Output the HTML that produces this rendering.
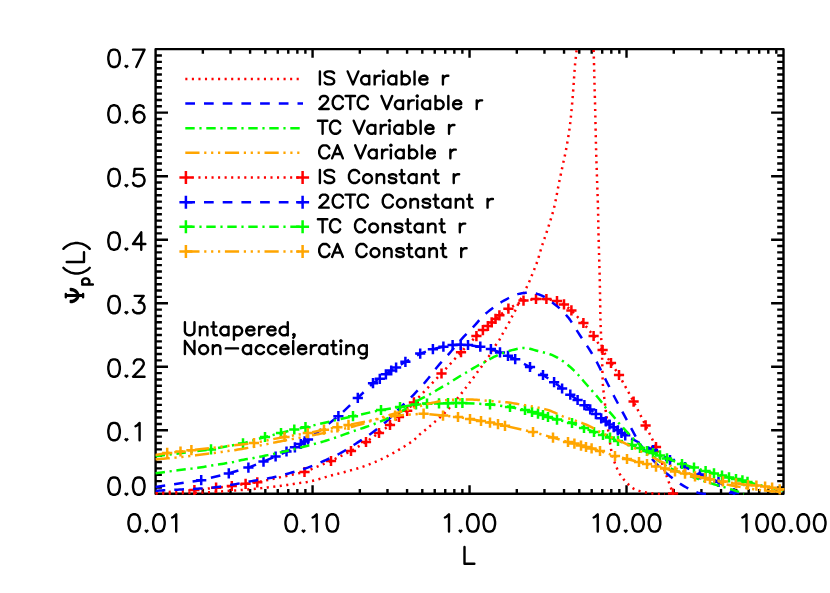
<!DOCTYPE html>
<html lang="en"><head><meta charset="utf-8"><title>Ψp(L) versus L — untapered, non-accelerating</title>
<style>html,body{margin:0;padding:0;background:#fff;font-family:"Liberation Sans",sans-serif}svg{display:block}.ax{stroke:#000;stroke-width:2.4;fill:none;stroke-linecap:butt}.tx{stroke:#000;stroke-width:2.4;fill:none;stroke-linecap:round;stroke-linejoin:round}.dt{stroke:#000;stroke-width:2.2;fill:#000;stroke-linecap:butt;stroke-linejoin:miter}.cv{fill:none;stroke-width:2.5;stroke-linecap:butt;stroke-linejoin:round}.mk{fill:none;stroke-width:2.5;stroke-linecap:butt}</style></head><body>
<svg width="830" height="593" viewBox="0 0 830 593" role="img" aria-label="Line chart of Psi_p(L) versus L">
<rect width="830" height="593" fill="#fff"/>
<defs><clipPath id="c"><rect x="154.5" y="48.05" width="630.1" height="446.85"/></clipPath></defs>
<g aria-label="axes"><path class="ax" stroke-linejoin="round" d="M155.6 49.15H783.5V493.8H155.6Z M202.85 493.8v-4.7 M202.85 49.15v4.7 M230.5 493.8v-4.7 M230.5 49.15v4.7 M250.11 493.8v-4.7 M250.11 49.15v4.7 M265.32 493.8v-4.7 M265.32 49.15v4.7 M277.75 493.8v-4.7 M277.75 49.15v4.7 M288.26 493.8v-4.7 M288.26 49.15v4.7 M297.36 493.8v-4.7 M297.36 49.15v4.7 M305.39 493.8v-4.7 M305.39 49.15v4.7 M312.57 493.8v-8.6 M312.57 49.15v8.6 M359.83 493.8v-4.7 M359.83 49.15v4.7 M387.47 493.8v-4.7 M387.47 49.15v4.7 M407.08 493.8v-4.7 M407.08 49.15v4.7 M422.3 493.8v-4.7 M422.3 49.15v4.7 M434.73 493.8v-4.7 M434.73 49.15v4.7 M445.23 493.8v-4.7 M445.23 49.15v4.7 M454.34 493.8v-4.7 M454.34 49.15v4.7 M462.37 493.8v-4.7 M462.37 49.15v4.7 M469.55 493.8v-8.6 M469.55 49.15v8.6 M516.8 493.8v-4.7 M516.8 49.15v4.7 M544.45 493.8v-4.7 M544.45 49.15v4.7 M564.06 493.8v-4.7 M564.06 49.15v4.7 M579.27 493.8v-4.7 M579.27 49.15v4.7 M591.7 493.8v-4.7 M591.7 49.15v4.7 M602.21 493.8v-4.7 M602.21 49.15v4.7 M611.31 493.8v-4.7 M611.31 49.15v4.7 M619.34 493.8v-4.7 M619.34 49.15v4.7 M626.52 493.8v-8.6 M626.52 49.15v8.6 M673.78 493.8v-4.7 M673.78 49.15v4.7 M701.42 493.8v-4.7 M701.42 49.15v4.7 M721.03 493.8v-4.7 M721.03 49.15v4.7 M736.25 493.8v-4.7 M736.25 49.15v4.7 M748.68 493.8v-4.7 M748.68 49.15v4.7 M759.18 493.8v-4.7 M759.18 49.15v4.7 M768.29 493.8v-4.7 M768.29 49.15v4.7 M776.32 493.8v-4.7 M776.32 49.15v4.7 M155.6 487.45h6.3 M783.5 487.45h-6.3 M155.6 481.1h6.3 M783.5 481.1h-6.3 M155.6 474.74h6.3 M783.5 474.74h-6.3 M155.6 468.39h6.3 M783.5 468.39h-6.3 M155.6 462.04h6.3 M783.5 462.04h-6.3 M155.6 455.69h6.3 M783.5 455.69h-6.3 M155.6 449.33h6.3 M783.5 449.33h-6.3 M155.6 442.98h6.3 M783.5 442.98h-6.3 M155.6 436.63h6.3 M783.5 436.63h-6.3 M155.6 430.28h12.4 M783.5 430.28h-12.4 M155.6 423.93h6.3 M783.5 423.93h-6.3 M155.6 417.57h6.3 M783.5 417.57h-6.3 M155.6 411.22h6.3 M783.5 411.22h-6.3 M155.6 404.87h6.3 M783.5 404.87h-6.3 M155.6 398.52h6.3 M783.5 398.52h-6.3 M155.6 392.17h6.3 M783.5 392.17h-6.3 M155.6 385.81h6.3 M783.5 385.81h-6.3 M155.6 379.46h6.3 M783.5 379.46h-6.3 M155.6 373.11h6.3 M783.5 373.11h-6.3 M155.6 366.76h12.4 M783.5 366.76h-12.4 M155.6 360.4h6.3 M783.5 360.4h-6.3 M155.6 354.05h6.3 M783.5 354.05h-6.3 M155.6 347.7h6.3 M783.5 347.7h-6.3 M155.6 341.35h6.3 M783.5 341.35h-6.3 M155.6 335h6.3 M783.5 335h-6.3 M155.6 328.64h6.3 M783.5 328.64h-6.3 M155.6 322.29h6.3 M783.5 322.29h-6.3 M155.6 315.94h6.3 M783.5 315.94h-6.3 M155.6 309.59h6.3 M783.5 309.59h-6.3 M155.6 303.24h12.4 M783.5 303.24h-12.4 M155.6 296.88h6.3 M783.5 296.88h-6.3 M155.6 290.53h6.3 M783.5 290.53h-6.3 M155.6 284.18h6.3 M783.5 284.18h-6.3 M155.6 277.83h6.3 M783.5 277.83h-6.3 M155.6 271.48h6.3 M783.5 271.48h-6.3 M155.6 265.12h6.3 M783.5 265.12h-6.3 M155.6 258.77h6.3 M783.5 258.77h-6.3 M155.6 252.42h6.3 M783.5 252.42h-6.3 M155.6 246.07h6.3 M783.5 246.07h-6.3 M155.6 239.71h12.4 M783.5 239.71h-12.4 M155.6 233.36h6.3 M783.5 233.36h-6.3 M155.6 227.01h6.3 M783.5 227.01h-6.3 M155.6 220.66h6.3 M783.5 220.66h-6.3 M155.6 214.31h6.3 M783.5 214.31h-6.3 M155.6 207.95h6.3 M783.5 207.95h-6.3 M155.6 201.6h6.3 M783.5 201.6h-6.3 M155.6 195.25h6.3 M783.5 195.25h-6.3 M155.6 188.9h6.3 M783.5 188.9h-6.3 M155.6 182.55h6.3 M783.5 182.55h-6.3 M155.6 176.19h12.4 M783.5 176.19h-12.4 M155.6 169.84h6.3 M783.5 169.84h-6.3 M155.6 163.49h6.3 M783.5 163.49h-6.3 M155.6 157.14h6.3 M783.5 157.14h-6.3 M155.6 150.78h6.3 M783.5 150.78h-6.3 M155.6 144.43h6.3 M783.5 144.43h-6.3 M155.6 138.08h6.3 M783.5 138.08h-6.3 M155.6 131.73h6.3 M783.5 131.73h-6.3 M155.6 125.38h6.3 M783.5 125.38h-6.3 M155.6 119.02h6.3 M783.5 119.02h-6.3 M155.6 112.67h12.4 M783.5 112.67h-12.4 M155.6 106.32h6.3 M783.5 106.32h-6.3 M155.6 99.97h6.3 M783.5 99.97h-6.3 M155.6 93.61h6.3 M783.5 93.61h-6.3 M155.6 87.26h6.3 M783.5 87.26h-6.3 M155.6 80.91h6.3 M783.5 80.91h-6.3 M155.6 74.56h6.3 M783.5 74.56h-6.3 M155.6 68.21h6.3 M783.5 68.21h-6.3 M155.6 61.85h6.3 M783.5 61.85h-6.3 M155.6 55.5h6.3 M783.5 55.5h-6.3"/></g>
<g aria-label="0.01"><title>0.01</title><path class="tx" d="M133.4 514.23 L130.93 515.06 L129.29 517.54 L128.46 521.68 L128.46 524.16 L129.29 528.29 L130.93 530.77 L133.4 531.6 L135.05 531.6 L137.52 530.77 L139.16 528.29 L139.99 524.16 L139.99 521.68 L139.16 517.54 L137.52 515.06 L135.05 514.23 L133.4 514.23 M158.09 514.23 L155.62 515.06 L153.98 517.54 L153.15 521.68 L153.15 524.16 L153.98 528.29 L155.62 530.77 L158.09 531.6 L159.74 531.6 L162.21 530.77 L163.85 528.29 L164.68 524.16 L164.68 521.68 L163.85 517.54 L162.21 515.06 L159.74 514.23 L158.09 514.23 M172.08 517.54 L173.73 516.71 L176.2 514.23 L176.2 531.6"/><path class="dt" d="M146.57 529.95 L145.75 530.77 L146.57 531.6 L147.39 530.77 L146.57 529.95"/></g>
<g aria-label="0.10"><title>0.10</title><path class="tx" d="M290.38 514.23 L287.91 515.06 L286.26 517.54 L285.44 521.68 L285.44 524.16 L286.26 528.29 L287.91 530.77 L290.38 531.6 L292.02 531.6 L294.49 530.77 L296.14 528.29 L296.96 524.16 L296.96 521.68 L296.14 517.54 L294.49 515.06 L292.02 514.23 L290.38 514.23 M312.6 517.54 L314.24 516.71 L316.71 514.23 L316.71 531.6 M331.53 514.23 L329.06 515.06 L327.41 517.54 L326.59 521.68 L326.59 524.16 L327.41 528.29 L329.06 530.77 L331.53 531.6 L333.17 531.6 L335.64 530.77 L337.29 528.29 L338.11 524.16 L338.11 521.68 L337.29 517.54 L335.64 515.06 L333.17 514.23 L331.53 514.23"/><path class="dt" d="M303.54 529.95 L302.72 530.77 L303.54 531.6 L304.37 530.77 L303.54 529.95"/></g>
<g aria-label="1.00"><title>1.00</title><path class="tx" d="M444.88 517.54 L446.53 516.71 L449 514.23 L449 531.6 M472.04 514.23 L469.57 515.06 L467.93 517.54 L467.1 521.68 L467.1 524.16 L467.93 528.29 L469.57 530.77 L472.04 531.6 L473.69 531.6 L476.16 530.77 L477.8 528.29 L478.63 524.16 L478.63 521.68 L477.8 517.54 L476.16 515.06 L473.69 514.23 L472.04 514.23 M488.5 514.23 L486.03 515.06 L484.39 517.54 L483.56 521.68 L483.56 524.16 L484.39 528.29 L486.03 530.77 L488.5 531.6 L490.15 531.6 L492.62 530.77 L494.26 528.29 L495.09 524.16 L495.09 521.68 L494.26 517.54 L492.62 515.06 L490.15 514.23 L488.5 514.23"/><path class="dt" d="M460.52 529.95 L459.7 530.77 L460.52 531.6 L461.34 530.77 L460.52 529.95"/></g>
<g aria-label="10.00"><title>10.00</title><path class="tx" d="M593.63 517.54 L595.27 516.71 L597.74 514.23 L597.74 531.6 M612.56 514.23 L610.09 515.06 L608.44 517.54 L607.62 521.68 L607.62 524.16 L608.44 528.29 L610.09 530.77 L612.56 531.6 L614.2 531.6 L616.67 530.77 L618.32 528.29 L619.14 524.16 L619.14 521.68 L618.32 517.54 L616.67 515.06 L614.2 514.23 L612.56 514.23 M637.25 514.23 L634.78 515.06 L633.13 517.54 L632.31 521.68 L632.31 524.16 L633.13 528.29 L634.78 530.77 L637.25 531.6 L638.89 531.6 L641.36 530.77 L643.01 528.29 L643.83 524.16 L643.83 521.68 L643.01 517.54 L641.36 515.06 L638.89 514.23 L637.25 514.23 M653.71 514.23 L651.24 515.06 L649.59 517.54 L648.77 521.68 L648.77 524.16 L649.59 528.29 L651.24 530.77 L653.71 531.6 L655.35 531.6 L657.82 530.77 L659.47 528.29 L660.29 524.16 L660.29 521.68 L659.47 517.54 L657.82 515.06 L655.35 514.23 L653.71 514.23"/><path class="dt" d="M625.73 529.95 L624.9 530.77 L625.73 531.6 L626.55 530.77 L625.73 529.95"/></g>
<g aria-label="100.00"><title>100.00</title><path class="tx" d="M742.37 517.54 L744.02 516.71 L746.49 514.23 L746.49 531.6 M761.3 514.23 L758.83 515.06 L757.19 517.54 L756.36 521.68 L756.36 524.16 L757.19 528.29 L758.83 530.77 L761.3 531.6 L762.95 531.6 L765.42 530.77 L767.06 528.29 L767.89 524.16 L767.89 521.68 L767.06 517.54 L765.42 515.06 L762.95 514.23 L761.3 514.23 M777.76 514.23 L775.29 515.06 L773.65 517.54 L772.82 521.68 L772.82 524.16 L773.65 528.29 L775.29 530.77 L777.76 531.6 L779.41 531.6 L781.88 530.77 L783.52 528.29 L784.35 524.16 L784.35 521.68 L783.52 517.54 L781.88 515.06 L779.41 514.23 L777.76 514.23 M802.45 514.23 L799.98 515.06 L798.34 517.54 L797.51 521.68 L797.51 524.16 L798.34 528.29 L799.98 530.77 L802.45 531.6 L804.1 531.6 L806.57 530.77 L808.21 528.29 L809.04 524.16 L809.04 521.68 L808.21 517.54 L806.57 515.06 L804.1 514.23 L802.45 514.23 M818.91 514.23 L816.44 515.06 L814.8 517.54 L813.97 521.68 L813.97 524.16 L814.8 528.29 L816.44 530.77 L818.91 531.6 L820.56 531.6 L823.03 530.77 L824.67 528.29 L825.5 524.16 L825.5 521.68 L824.67 517.54 L823.03 515.06 L820.56 514.23 L818.91 514.23"/><path class="dt" d="M790.93 529.95 L790.11 530.77 L790.93 531.6 L791.75 530.77 L790.93 529.95"/></g>
<g aria-label="0.0"><title>0.0</title><path class="tx" d="M113.26 477.43 L110.79 478.26 L109.14 480.74 L108.32 484.88 L108.32 487.36 L109.14 491.49 L110.79 493.97 L113.26 494.8 L114.9 494.8 L117.37 493.97 L119.02 491.49 L119.84 487.36 L119.84 484.88 L119.02 480.74 L117.37 478.26 L114.9 477.43 L113.26 477.43 M137.95 477.43 L135.48 478.26 L133.83 480.74 L133.01 484.88 L133.01 487.36 L133.83 491.49 L135.48 493.97 L137.95 494.8 L139.59 494.8 L142.06 493.97 L143.71 491.49 L144.53 487.36 L144.53 484.88 L143.71 480.74 L142.06 478.26 L139.59 477.43 L137.95 477.43"/><path class="dt" d="M126.42 493.15 L125.6 493.97 L126.42 494.8 L127.25 493.97 L126.42 493.15"/></g>
<g aria-label="0.1"><title>0.1</title><path class="tx" d="M113.26 422.91 L110.79 423.74 L109.14 426.22 L108.32 430.35 L108.32 432.84 L109.14 436.97 L110.79 439.45 L113.26 440.28 L114.9 440.28 L117.37 439.45 L119.02 436.97 L119.84 432.84 L119.84 430.35 L119.02 426.22 L117.37 423.74 L114.9 422.91 L113.26 422.91 M135.48 426.22 L137.12 425.39 L139.59 422.91 L139.59 440.28"/><path class="dt" d="M126.42 438.62 L125.6 439.45 L126.42 440.28 L127.25 439.45 L126.42 438.62"/></g>
<g aria-label="0.2"><title>0.2</title><path class="tx" d="M113.26 359.39 L110.79 360.22 L109.14 362.7 L108.32 366.83 L108.32 369.31 L109.14 373.45 L110.79 375.93 L113.26 376.76 L114.9 376.76 L117.37 375.93 L119.02 373.45 L119.84 369.31 L119.84 366.83 L119.02 362.7 L117.37 360.22 L114.9 359.39 L113.26 359.39 M133.83 363.53 L133.83 362.7 L134.66 361.04 L135.48 360.22 L137.12 359.39 L140.42 359.39 L142.06 360.22 L142.88 361.04 L143.71 362.7 L143.71 364.35 L142.88 366.01 L141.24 368.49 L133.01 376.76 L144.53 376.76"/><path class="dt" d="M126.42 375.1 L125.6 375.93 L126.42 376.76 L127.25 375.93 L126.42 375.1"/></g>
<g aria-label="0.3"><title>0.3</title><path class="tx" d="M113.26 295.87 L110.79 296.7 L109.14 299.18 L108.32 303.31 L108.32 305.79 L109.14 309.93 L110.79 312.41 L113.26 313.24 L114.9 313.24 L117.37 312.41 L119.02 309.93 L119.84 305.79 L119.84 303.31 L119.02 299.18 L117.37 296.7 L114.9 295.87 L113.26 295.87 M134.66 295.87 L143.71 295.87 L138.77 302.48 L141.24 302.48 L142.88 303.31 L143.71 304.14 L144.53 306.62 L144.53 308.27 L143.71 310.75 L142.06 312.41 L139.59 313.24 L137.12 313.24 L134.66 312.41 L133.83 311.58 L133.01 309.93"/><path class="dt" d="M126.42 311.58 L125.6 312.41 L126.42 313.24 L127.25 312.41 L126.42 311.58"/></g>
<g aria-label="0.4"><title>0.4</title><path class="tx" d="M113.26 232.35 L110.79 233.17 L109.14 235.66 L108.32 239.79 L108.32 242.27 L109.14 246.41 L110.79 248.89 L113.26 249.71 L114.9 249.71 L117.37 248.89 L119.02 246.41 L119.84 242.27 L119.84 239.79 L119.02 235.66 L117.37 233.17 L114.9 232.35 L113.26 232.35 M141.24 232.35 L133.01 243.93 L145.35 243.93 M141.24 232.35 L141.24 249.71"/><path class="dt" d="M126.42 248.06 L125.6 248.89 L126.42 249.71 L127.25 248.89 L126.42 248.06"/></g>
<g aria-label="0.5"><title>0.5</title><path class="tx" d="M113.26 168.83 L110.79 169.65 L109.14 172.13 L108.32 176.27 L108.32 178.75 L109.14 182.88 L110.79 185.37 L113.26 186.19 L114.9 186.19 L117.37 185.37 L119.02 182.88 L119.84 178.75 L119.84 176.27 L119.02 172.13 L117.37 169.65 L114.9 168.83 L113.26 168.83 M142.88 168.83 L134.66 168.83 L133.83 176.27 L134.66 175.44 L137.12 174.61 L139.59 174.61 L142.06 175.44 L143.71 177.1 L144.53 179.58 L144.53 181.23 L143.71 183.71 L142.06 185.37 L139.59 186.19 L137.12 186.19 L134.66 185.37 L133.83 184.54 L133.01 182.88"/><path class="dt" d="M126.42 184.54 L125.6 185.37 L126.42 186.19 L127.25 185.37 L126.42 184.54"/></g>
<g aria-label="0.6"><title>0.6</title><path class="tx" d="M113.26 105.3 L110.79 106.13 L109.14 108.61 L108.32 112.75 L108.32 115.23 L109.14 119.36 L110.79 121.84 L113.26 122.67 L114.9 122.67 L117.37 121.84 L119.02 119.36 L119.84 115.23 L119.84 112.75 L119.02 108.61 L117.37 106.13 L114.9 105.3 L113.26 105.3 M143.71 107.79 L142.88 106.13 L140.42 105.3 L138.77 105.3 L136.3 106.13 L134.66 108.61 L133.83 112.75 L133.83 116.88 L134.66 120.19 L136.3 121.84 L138.77 122.67 L139.59 122.67 L142.06 121.84 L143.71 120.19 L144.53 117.71 L144.53 116.88 L143.71 114.4 L142.06 112.75 L139.59 111.92 L138.77 111.92 L136.3 112.75 L134.66 114.4 L133.83 116.88"/><path class="dt" d="M126.42 121.02 L125.6 121.84 L126.42 122.67 L127.25 121.84 L126.42 121.02"/></g>
<g aria-label="0.7"><title>0.7</title><path class="tx" d="M113.26 49.63 L110.79 50.46 L109.14 52.94 L108.32 57.08 L108.32 59.56 L109.14 63.69 L110.79 66.17 L113.26 67 L114.9 67 L117.37 66.17 L119.02 63.69 L119.84 59.56 L119.84 57.08 L119.02 52.94 L117.37 50.46 L114.9 49.63 L113.26 49.63 M144.53 49.63 L136.3 67 M133.01 49.63 L144.53 49.63"/><path class="dt" d="M126.42 65.35 L125.6 66.17 L126.42 67 L127.25 66.17 L126.42 65.35"/></g>
<g aria-label="L"><title>L</title><path class="tx" d="M464.5 546.9 L464.5 563.7 M464.5 563.7 L474.37 563.7"/></g>
<g aria-label="Ψp(L)"><title>Ψp(L)</title><path class="tx" d="M65.82 295.88 L83.1 295.88 M65.82 295.22 L83.1 295.22 M65.82 297.19 L65.82 293.9 M83.1 297.19 L83.1 293.9 M70.75 302.13 L72.4 301.97 L74.21 301.31 L75.86 300.24 L77.34 298.67 L78.16 297.03 L78.49 295.55 M70.75 301.06 L72.4 300.9 L73.88 300.4 L75.36 299.5 L76.52 298.35 M70.75 288.96 L72.4 289.13 L74.21 289.79 L75.86 290.86 L77.34 292.42 L78.16 294.07 L78.49 295.55 M70.75 290.03 L72.4 290.2 L73.88 290.69 L75.36 291.6 L76.52 292.75 M82.16 284.45 L92.87 284.45 M83.69 284.45 L82.67 283.43 L82.16 282.41 L82.16 280.88 L82.67 279.86 L83.69 278.84 L85.22 278.33 L86.24 278.33 L87.77 278.84 L88.79 279.86 L89.3 280.88 L89.3 282.41 L88.79 283.43 L87.77 284.45 M63.42 267.75 L65.07 269.39 L67.54 271.04 L70.83 272.68 L74.95 273.51 L78.24 273.51 L82.35 272.68 L85.65 271.04 L88.11 269.39 L89.76 267.75 M66.72 261.99 L84 261.99 M84 261.99 L84 252.11 M63.42 248.82 L65.07 247.17 L67.54 245.53 L70.83 243.88 L74.95 243.06 L78.24 243.06 L82.35 243.88 L85.65 245.53 L88.11 247.17 L89.76 248.82"/></g>
<g aria-label="Untapered,"><title>Untapered,</title><path class="tx" d="M184.92 322.28 L184.92 331.58 L185.6 333.44 L186.97 334.68 L189.01 335.3 L190.37 335.3 L192.41 334.68 L193.78 333.44 L194.46 331.58 L194.46 322.28 M199.91 326.62 L199.91 335.3 M199.91 329.1 L201.95 327.24 L203.31 326.62 L205.35 326.62 L206.72 327.24 L207.4 329.1 L207.4 335.3 M213.53 322.28 L213.53 332.82 L214.21 334.68 L215.57 335.3 L216.93 335.3 M211.48 326.62 L216.25 326.62 M228.51 326.62 L228.51 335.3 M228.51 328.48 L227.15 327.24 L225.78 326.62 L223.74 326.62 L222.38 327.24 L221.02 328.48 L220.34 330.34 L220.34 331.58 L221.02 333.44 L222.38 334.68 L223.74 335.3 L225.78 335.3 L227.15 334.68 L228.51 333.44 M233.96 326.62 L233.96 339.64 M233.96 328.48 L235.32 327.24 L236.68 326.62 L238.72 326.62 L240.08 327.24 L241.45 328.48 L242.13 330.34 L242.13 331.58 L241.45 333.44 L240.08 334.68 L238.72 335.3 L236.68 335.3 L235.32 334.68 L233.96 333.44 M246.21 330.34 L254.39 330.34 L254.39 329.1 L253.7 327.86 L253.02 327.24 L251.66 326.62 L249.62 326.62 L248.26 327.24 L246.89 328.48 L246.21 330.34 L246.21 331.58 L246.89 333.44 L248.26 334.68 L249.62 335.3 L251.66 335.3 L253.02 334.68 L254.39 333.44 M259.15 326.62 L259.15 335.3 M259.15 330.34 L259.83 328.48 L261.2 327.24 L262.56 326.62 L264.6 326.62 M267.32 330.34 L275.5 330.34 L275.5 329.1 L274.82 327.86 L274.13 327.24 L272.77 326.62 L270.73 326.62 L269.37 327.24 L268.01 328.48 L267.32 330.34 L267.32 331.58 L268.01 333.44 L269.37 334.68 L270.73 335.3 L272.77 335.3 L274.13 334.68 L275.5 333.44 M287.75 322.28 L287.75 335.3 M287.75 328.48 L286.39 327.24 L285.03 326.62 L282.99 326.62 L281.63 327.24 L280.26 328.48 L279.58 330.34 L279.58 331.58 L280.26 333.44 L281.63 334.68 L282.99 335.3 L285.03 335.3 L286.39 334.68 L287.75 333.44 M294.56 334.68 L293.88 335.3 L293.2 334.68 L293.88 334.06 L294.56 334.68 L294.56 335.92 L293.88 337.16 L293.2 337.78"/></g>
<g aria-label="Non-accelerating"><title>Non-accelerating</title><path class="tx" d="M184.92 340.98 L184.92 354 M184.92 340.98 L194.46 354 M194.46 340.98 L194.46 354 M202.63 345.32 L201.27 345.94 L199.91 347.18 L199.22 349.04 L199.22 350.28 L199.91 352.14 L201.27 353.38 L202.63 354 L204.67 354 L206.03 353.38 L207.4 352.14 L208.08 350.28 L208.08 349.04 L207.4 347.18 L206.03 345.94 L204.67 345.32 L202.63 345.32 M212.84 345.32 L212.84 354 M212.84 347.8 L214.89 345.94 L216.25 345.32 L218.29 345.32 L219.65 345.94 L220.34 347.8 L220.34 354 M225.78 348.42 L238.04 348.42 M250.98 345.32 L250.98 354 M250.98 347.18 L249.62 345.94 L248.26 345.32 L246.21 345.32 L244.85 345.94 L243.49 347.18 L242.81 349.04 L242.81 350.28 L243.49 352.14 L244.85 353.38 L246.21 354 L248.26 354 L249.62 353.38 L250.98 352.14 M263.92 347.18 L262.56 345.94 L261.2 345.32 L259.15 345.32 L257.79 345.94 L256.43 347.18 L255.75 349.04 L255.75 350.28 L256.43 352.14 L257.79 353.38 L259.15 354 L261.2 354 L262.56 353.38 L263.92 352.14 M276.18 347.18 L274.82 345.94 L273.45 345.32 L271.41 345.32 L270.05 345.94 L268.69 347.18 L268.01 349.04 L268.01 350.28 L268.69 352.14 L270.05 353.38 L271.41 354 L273.45 354 L274.82 353.38 L276.18 352.14 M280.26 349.04 L288.44 349.04 L288.44 347.8 L287.75 346.56 L287.07 345.94 L285.71 345.32 L283.67 345.32 L282.31 345.94 L280.94 347.18 L280.26 349.04 L280.26 350.28 L280.94 352.14 L282.31 353.38 L283.67 354 L285.71 354 L287.07 353.38 L288.44 352.14 M293.2 340.98 L293.2 354 M297.97 349.04 L306.14 349.04 L306.14 347.8 L305.46 346.56 L304.78 345.94 L303.42 345.32 L301.38 345.32 L300.01 345.94 L298.65 347.18 L297.97 349.04 L297.97 350.28 L298.65 352.14 L300.01 353.38 L301.38 354 L303.42 354 L304.78 353.38 L306.14 352.14 M310.91 345.32 L310.91 354 M310.91 349.04 L311.59 347.18 L312.95 345.94 L314.31 345.32 L316.36 345.32 M327.25 345.32 L327.25 354 M327.25 347.18 L325.89 345.94 L324.53 345.32 L322.49 345.32 L321.12 345.94 L319.76 347.18 L319.08 349.04 L319.08 350.28 L319.76 352.14 L321.12 353.38 L322.49 354 L324.53 354 L325.89 353.38 L327.25 352.14 M333.38 340.98 L333.38 351.52 L334.06 353.38 L335.42 354 L336.79 354 M331.34 345.32 L336.11 345.32 M340.19 340.98 L340.87 341.6 L341.55 340.98 L340.87 340.36 L340.19 340.98 M340.87 345.32 L340.87 354 M346.32 345.32 L346.32 354 M346.32 347.8 L348.36 345.94 L349.73 345.32 L351.77 345.32 L353.13 345.94 L353.81 347.8 L353.81 354 M366.75 345.32 L366.75 355.24 L366.07 357.1 L365.39 357.72 L364.03 358.34 L361.98 358.34 L360.62 357.72 M366.75 347.18 L365.39 345.94 L364.03 345.32 L361.98 345.32 L360.62 345.94 L359.26 347.18 L358.58 349.04 L358.58 350.28 L359.26 352.14 L360.62 353.38 L361.98 354 L364.03 354 L365.39 353.38 L366.75 352.14"/></g>
<g aria-label="legend IS Variable r">
<path class="cv" stroke="#ff0000" stroke-dasharray="2.1 4.45" d="M185.3 78.9H303"/>
<title>IS Variable r</title><path class="tx" d="M319.9 71.38 L319.9 84.4 M334.1 73.24 L332.75 72 L330.72 71.38 L328.02 71.38 L325.99 72 L324.64 73.24 L324.64 74.48 L325.31 75.72 L325.99 76.34 L327.34 76.96 L331.4 78.2 L332.75 78.82 L333.42 79.44 L334.1 80.68 L334.1 82.54 L332.75 83.78 L330.72 84.4 L328.02 84.4 L325.99 83.78 L324.64 82.54 M347.62 71.38 L353.03 84.4 M358.44 71.38 L353.03 84.4 M369.25 75.72 L369.25 84.4 M369.25 77.58 L367.9 76.34 L366.55 75.72 L364.52 75.72 L363.17 76.34 L361.82 77.58 L361.14 79.44 L361.14 80.68 L361.82 82.54 L363.17 83.78 L364.52 84.4 L366.55 84.4 L367.9 83.78 L369.25 82.54 M374.66 75.72 L374.66 84.4 M374.66 79.44 L375.34 77.58 L376.69 76.34 L378.04 75.72 L380.07 75.72 M382.77 71.38 L383.45 72 L384.12 71.38 L383.45 70.76 L382.77 71.38 M383.45 75.72 L383.45 84.4 M396.29 75.72 L396.29 84.4 M396.29 77.58 L394.94 76.34 L393.59 75.72 L391.56 75.72 L390.21 76.34 L388.86 77.58 L388.18 79.44 L388.18 80.68 L388.86 82.54 L390.21 83.78 L391.56 84.4 L393.59 84.4 L394.94 83.78 L396.29 82.54 M401.7 71.38 L401.7 84.4 M401.7 77.58 L403.05 76.34 L404.4 75.72 L406.43 75.72 L407.78 76.34 L409.14 77.58 L409.81 79.44 L409.81 80.68 L409.14 82.54 L407.78 83.78 L406.43 84.4 L404.4 84.4 L403.05 83.78 L401.7 82.54 M414.54 71.38 L414.54 84.4 M419.28 79.44 L427.39 79.44 L427.39 78.2 L426.71 76.96 L426.04 76.34 L424.68 75.72 L422.66 75.72 L421.3 76.34 L419.95 77.58 L419.28 79.44 L419.28 80.68 L419.95 82.54 L421.3 83.78 L422.66 84.4 L424.68 84.4 L426.04 83.78 L427.39 82.54 M442.94 75.72 L442.94 84.4 M442.94 79.44 L443.61 77.58 L444.96 76.34 L446.32 75.72 L448.34 75.72"/></g>
<g aria-label="legend 2CTC Variable r">
<path class="cv" stroke="#0000ff" stroke-dasharray="9.7 9.0" d="M185.3 103.55H303"/>
<title>2CTC Variable r</title><path class="tx" d="M319.9 99.13 L319.9 98.51 L320.58 97.27 L321.26 96.65 L322.61 96.03 L325.31 96.03 L326.66 96.65 L327.34 97.27 L328.02 98.51 L328.02 99.75 L327.34 100.99 L325.99 102.85 L319.23 109.05 L328.69 109.05 M342.89 99.13 L342.21 97.89 L340.86 96.65 L339.51 96.03 L336.8 96.03 L335.45 96.65 L334.1 97.89 L333.42 99.13 L332.75 100.99 L332.75 104.09 L333.42 105.95 L334.1 107.19 L335.45 108.43 L336.8 109.05 L339.51 109.05 L340.86 108.43 L342.21 107.19 L342.89 105.95 M350.32 96.03 L350.32 109.05 M345.59 96.03 L355.06 96.03 M367.9 99.13 L367.22 97.89 L365.87 96.65 L364.52 96.03 L361.82 96.03 L360.46 96.65 L359.11 97.89 L358.44 99.13 L357.76 100.99 L357.76 104.09 L358.44 105.95 L359.11 107.19 L360.46 108.43 L361.82 109.05 L364.52 109.05 L365.87 108.43 L367.22 107.19 L367.9 105.95 M381.42 96.03 L386.83 109.05 M392.24 96.03 L386.83 109.05 M403.05 100.37 L403.05 109.05 M403.05 102.23 L401.7 100.99 L400.35 100.37 L398.32 100.37 L396.97 100.99 L395.62 102.23 L394.94 104.09 L394.94 105.33 L395.62 107.19 L396.97 108.43 L398.32 109.05 L400.35 109.05 L401.7 108.43 L403.05 107.19 M408.46 100.37 L408.46 109.05 M408.46 104.09 L409.14 102.23 L410.49 100.99 L411.84 100.37 L413.87 100.37 M416.57 96.03 L417.25 96.65 L417.92 96.03 L417.25 95.41 L416.57 96.03 M417.25 100.37 L417.25 109.05 M430.09 100.37 L430.09 109.05 M430.09 102.23 L428.74 100.99 L427.39 100.37 L425.36 100.37 L424.01 100.99 L422.66 102.23 L421.98 104.09 L421.98 105.33 L422.66 107.19 L424.01 108.43 L425.36 109.05 L427.39 109.05 L428.74 108.43 L430.09 107.19 M435.5 96.03 L435.5 109.05 M435.5 102.23 L436.85 100.99 L438.2 100.37 L440.23 100.37 L441.58 100.99 L442.94 102.23 L443.61 104.09 L443.61 105.33 L442.94 107.19 L441.58 108.43 L440.23 109.05 L438.2 109.05 L436.85 108.43 L435.5 107.19 M448.34 96.03 L448.34 109.05 M453.08 104.09 L461.19 104.09 L461.19 102.85 L460.51 101.61 L459.84 100.99 L458.48 100.37 L456.46 100.37 L455.1 100.99 L453.75 102.23 L453.08 104.09 L453.08 105.33 L453.75 107.19 L455.1 108.43 L456.46 109.05 L458.48 109.05 L459.84 108.43 L461.19 107.19 M476.74 100.37 L476.74 109.05 M476.74 104.09 L477.41 102.23 L478.76 100.99 L480.12 100.37 L482.14 100.37"/></g>
<g aria-label="legend TC Variable r">
<path class="cv" stroke="#00ff00" stroke-dasharray="9.4 4.7 2.2 4.7" d="M185.3 128.2H303"/>
<title>TC Variable r</title><path class="tx" d="M322.61 120.68 L322.61 133.7 M317.88 120.68 L327.34 120.68 M340.18 123.78 L339.51 122.54 L338.16 121.3 L336.8 120.68 L334.1 120.68 L332.75 121.3 L331.4 122.54 L330.72 123.78 L330.04 125.64 L330.04 128.74 L330.72 130.6 L331.4 131.84 L332.75 133.08 L334.1 133.7 L336.8 133.7 L338.16 133.08 L339.51 131.84 L340.18 130.6 M353.7 120.68 L359.11 133.7 M364.52 120.68 L359.11 133.7 M375.34 125.02 L375.34 133.7 M375.34 126.88 L373.98 125.64 L372.63 125.02 L370.6 125.02 L369.25 125.64 L367.9 126.88 L367.22 128.74 L367.22 129.98 L367.9 131.84 L369.25 133.08 L370.6 133.7 L372.63 133.7 L373.98 133.08 L375.34 131.84 M380.74 125.02 L380.74 133.7 M380.74 128.74 L381.42 126.88 L382.77 125.64 L384.12 125.02 L386.15 125.02 M388.86 120.68 L389.53 121.3 L390.21 120.68 L389.53 120.06 L388.86 120.68 M389.53 125.02 L389.53 133.7 M402.38 125.02 L402.38 133.7 M402.38 126.88 L401.02 125.64 L399.67 125.02 L397.64 125.02 L396.29 125.64 L394.94 126.88 L394.26 128.74 L394.26 129.98 L394.94 131.84 L396.29 133.08 L397.64 133.7 L399.67 133.7 L401.02 133.08 L402.38 131.84 M407.78 120.68 L407.78 133.7 M407.78 126.88 L409.14 125.64 L410.49 125.02 L412.52 125.02 L413.87 125.64 L415.22 126.88 L415.9 128.74 L415.9 129.98 L415.22 131.84 L413.87 133.08 L412.52 133.7 L410.49 133.7 L409.14 133.08 L407.78 131.84 M420.63 120.68 L420.63 133.7 M425.36 128.74 L433.47 128.74 L433.47 127.5 L432.8 126.26 L432.12 125.64 L430.77 125.02 L428.74 125.02 L427.39 125.64 L426.04 126.88 L425.36 128.74 L425.36 129.98 L426.04 131.84 L427.39 133.08 L428.74 133.7 L430.77 133.7 L432.12 133.08 L433.47 131.84 M449.02 125.02 L449.02 133.7 M449.02 128.74 L449.7 126.88 L451.05 125.64 L452.4 125.02 L454.43 125.02"/></g>
<g aria-label="legend CA Variable r">
<path class="cv" stroke="#ffa500" stroke-dasharray="14.2 4.7 2.2 4.7 2.2 4.7 2.2 4.7" d="M185.3 152.85H303"/>
<title>CA Variable r</title><path class="tx" d="M329.37 148.43 L328.69 147.19 L327.34 145.95 L325.99 145.33 L323.28 145.33 L321.93 145.95 L320.58 147.19 L319.9 148.43 L319.23 150.29 L319.23 153.39 L319.9 155.25 L320.58 156.49 L321.93 157.73 L323.28 158.35 L325.99 158.35 L327.34 157.73 L328.69 156.49 L329.37 155.25 M337.48 145.33 L332.07 158.35 M337.48 145.33 L342.89 158.35 M334.1 154.01 L340.86 154.01 M355.06 145.33 L360.46 158.35 M365.87 145.33 L360.46 158.35 M376.69 149.67 L376.69 158.35 M376.69 151.53 L375.34 150.29 L373.98 149.67 L371.96 149.67 L370.6 150.29 L369.25 151.53 L368.58 153.39 L368.58 154.63 L369.25 156.49 L370.6 157.73 L371.96 158.35 L373.98 158.35 L375.34 157.73 L376.69 156.49 M382.1 149.67 L382.1 158.35 M382.1 153.39 L382.77 151.53 L384.12 150.29 L385.48 149.67 L387.5 149.67 M390.21 145.33 L390.88 145.95 L391.56 145.33 L390.88 144.71 L390.21 145.33 M390.88 149.67 L390.88 158.35 M403.73 149.67 L403.73 158.35 M403.73 151.53 L402.38 150.29 L401.02 149.67 L399 149.67 L397.64 150.29 L396.29 151.53 L395.62 153.39 L395.62 154.63 L396.29 156.49 L397.64 157.73 L399 158.35 L401.02 158.35 L402.38 157.73 L403.73 156.49 M409.14 145.33 L409.14 158.35 M409.14 151.53 L410.49 150.29 L411.84 149.67 L413.87 149.67 L415.22 150.29 L416.57 151.53 L417.25 153.39 L417.25 154.63 L416.57 156.49 L415.22 157.73 L413.87 158.35 L411.84 158.35 L410.49 157.73 L409.14 156.49 M421.98 145.33 L421.98 158.35 M426.71 153.39 L434.82 153.39 L434.82 152.15 L434.15 150.91 L433.47 150.29 L432.12 149.67 L430.09 149.67 L428.74 150.29 L427.39 151.53 L426.71 153.39 L426.71 154.63 L427.39 156.49 L428.74 157.73 L430.09 158.35 L432.12 158.35 L433.47 157.73 L434.82 156.49 M450.37 149.67 L450.37 158.35 M450.37 153.39 L451.05 151.53 L452.4 150.29 L453.75 149.67 L455.78 149.67"/></g>
<g aria-label="legend IS Constant r">
<path class="cv" stroke="#ff0000" stroke-dasharray="2.1 4.45" d="M185.3 177.5H303"/>
<path class="mk" stroke="#ff0000" d="M179.4 177.5h13 M185.9 171v13 M296.1 177.5h13 M302.6 171v13"/>
<title>IS Constant r</title><path class="tx" d="M319.9 169.98 L319.9 183 M334.1 171.84 L332.75 170.6 L330.72 169.98 L328.02 169.98 L325.99 170.6 L324.64 171.84 L324.64 173.08 L325.31 174.32 L325.99 174.94 L327.34 175.56 L331.4 176.8 L332.75 177.42 L333.42 178.04 L334.1 179.28 L334.1 181.14 L332.75 182.38 L330.72 183 L328.02 183 L325.99 182.38 L324.64 181.14 M359.11 173.08 L358.44 171.84 L357.08 170.6 L355.73 169.98 L353.03 169.98 L351.68 170.6 L350.32 171.84 L349.65 173.08 L348.97 174.94 L348.97 178.04 L349.65 179.9 L350.32 181.14 L351.68 182.38 L353.03 183 L355.73 183 L357.08 182.38 L358.44 181.14 L359.11 179.9 M366.55 174.32 L365.2 174.94 L363.84 176.18 L363.17 178.04 L363.17 179.28 L363.84 181.14 L365.2 182.38 L366.55 183 L368.58 183 L369.93 182.38 L371.28 181.14 L371.96 179.28 L371.96 178.04 L371.28 176.18 L369.93 174.94 L368.58 174.32 L366.55 174.32 M376.69 174.32 L376.69 183 M376.69 176.8 L378.72 174.94 L380.07 174.32 L382.1 174.32 L383.45 174.94 L384.12 176.8 L384.12 183 M396.29 176.18 L395.62 174.94 L393.59 174.32 L391.56 174.32 L389.53 174.94 L388.86 176.18 L389.53 177.42 L390.88 178.04 L394.26 178.66 L395.62 179.28 L396.29 180.52 L396.29 181.14 L395.62 182.38 L393.59 183 L391.56 183 L389.53 182.38 L388.86 181.14 M401.7 169.98 L401.7 180.52 L402.38 182.38 L403.73 183 L405.08 183 M399.67 174.32 L404.4 174.32 M416.57 174.32 L416.57 183 M416.57 176.18 L415.22 174.94 L413.87 174.32 L411.84 174.32 L410.49 174.94 L409.14 176.18 L408.46 178.04 L408.46 179.28 L409.14 181.14 L410.49 182.38 L411.84 183 L413.87 183 L415.22 182.38 L416.57 181.14 M421.98 174.32 L421.98 183 M421.98 176.8 L424.01 174.94 L425.36 174.32 L427.39 174.32 L428.74 174.94 L429.42 176.8 L429.42 183 M435.5 169.98 L435.5 180.52 L436.18 182.38 L437.53 183 L438.88 183 M433.47 174.32 L438.2 174.32 M453.75 174.32 L453.75 183 M453.75 178.04 L454.43 176.18 L455.78 174.94 L457.13 174.32 L459.16 174.32"/></g>
<g aria-label="legend 2CTC Constant r">
<path class="cv" stroke="#0000ff" stroke-dasharray="9.7 9.0" d="M185.3 202.15H303"/>
<path class="mk" stroke="#0000ff" d="M179.4 202.15h13 M185.9 195.65v13 M296.1 202.15h13 M302.6 195.65v13"/>
<title>2CTC Constant r</title><path class="tx" d="M319.9 197.73 L319.9 197.11 L320.58 195.87 L321.26 195.25 L322.61 194.63 L325.31 194.63 L326.66 195.25 L327.34 195.87 L328.02 197.11 L328.02 198.35 L327.34 199.59 L325.99 201.45 L319.23 207.65 L328.69 207.65 M342.89 197.73 L342.21 196.49 L340.86 195.25 L339.51 194.63 L336.8 194.63 L335.45 195.25 L334.1 196.49 L333.42 197.73 L332.75 199.59 L332.75 202.69 L333.42 204.55 L334.1 205.79 L335.45 207.03 L336.8 207.65 L339.51 207.65 L340.86 207.03 L342.21 205.79 L342.89 204.55 M350.32 194.63 L350.32 207.65 M345.59 194.63 L355.06 194.63 M367.9 197.73 L367.22 196.49 L365.87 195.25 L364.52 194.63 L361.82 194.63 L360.46 195.25 L359.11 196.49 L358.44 197.73 L357.76 199.59 L357.76 202.69 L358.44 204.55 L359.11 205.79 L360.46 207.03 L361.82 207.65 L364.52 207.65 L365.87 207.03 L367.22 205.79 L367.9 204.55 M392.91 197.73 L392.24 196.49 L390.88 195.25 L389.53 194.63 L386.83 194.63 L385.48 195.25 L384.12 196.49 L383.45 197.73 L382.77 199.59 L382.77 202.69 L383.45 204.55 L384.12 205.79 L385.48 207.03 L386.83 207.65 L389.53 207.65 L390.88 207.03 L392.24 205.79 L392.91 204.55 M400.35 198.97 L399 199.59 L397.64 200.83 L396.97 202.69 L396.97 203.93 L397.64 205.79 L399 207.03 L400.35 207.65 L402.38 207.65 L403.73 207.03 L405.08 205.79 L405.76 203.93 L405.76 202.69 L405.08 200.83 L403.73 199.59 L402.38 198.97 L400.35 198.97 M410.49 198.97 L410.49 207.65 M410.49 201.45 L412.52 199.59 L413.87 198.97 L415.9 198.97 L417.25 199.59 L417.92 201.45 L417.92 207.65 M430.09 200.83 L429.42 199.59 L427.39 198.97 L425.36 198.97 L423.33 199.59 L422.66 200.83 L423.33 202.07 L424.68 202.69 L428.06 203.31 L429.42 203.93 L430.09 205.17 L430.09 205.79 L429.42 207.03 L427.39 207.65 L425.36 207.65 L423.33 207.03 L422.66 205.79 M435.5 194.63 L435.5 205.17 L436.18 207.03 L437.53 207.65 L438.88 207.65 M433.47 198.97 L438.2 198.97 M450.37 198.97 L450.37 207.65 M450.37 200.83 L449.02 199.59 L447.67 198.97 L445.64 198.97 L444.29 199.59 L442.94 200.83 L442.26 202.69 L442.26 203.93 L442.94 205.79 L444.29 207.03 L445.64 207.65 L447.67 207.65 L449.02 207.03 L450.37 205.79 M455.78 198.97 L455.78 207.65 M455.78 201.45 L457.81 199.59 L459.16 198.97 L461.19 198.97 L462.54 199.59 L463.22 201.45 L463.22 207.65 M469.3 194.63 L469.3 205.17 L469.98 207.03 L471.33 207.65 L472.68 207.65 M467.27 198.97 L472 198.97 M487.55 198.97 L487.55 207.65 M487.55 202.69 L488.23 200.83 L489.58 199.59 L490.93 198.97 L492.96 198.97"/></g>
<g aria-label="legend TC Constant r">
<path class="cv" stroke="#00ff00" stroke-dasharray="9.4 4.7 2.2 4.7" d="M185.3 226.8H303"/>
<path class="mk" stroke="#00ff00" d="M179.4 226.8h13 M185.9 220.3v13 M296.1 226.8h13 M302.6 220.3v13"/>
<title>TC Constant r</title><path class="tx" d="M322.61 219.28 L322.61 232.3 M317.88 219.28 L327.34 219.28 M340.18 222.38 L339.51 221.14 L338.16 219.9 L336.8 219.28 L334.1 219.28 L332.75 219.9 L331.4 221.14 L330.72 222.38 L330.04 224.24 L330.04 227.34 L330.72 229.2 L331.4 230.44 L332.75 231.68 L334.1 232.3 L336.8 232.3 L338.16 231.68 L339.51 230.44 L340.18 229.2 M365.2 222.38 L364.52 221.14 L363.17 219.9 L361.82 219.28 L359.11 219.28 L357.76 219.9 L356.41 221.14 L355.73 222.38 L355.06 224.24 L355.06 227.34 L355.73 229.2 L356.41 230.44 L357.76 231.68 L359.11 232.3 L361.82 232.3 L363.17 231.68 L364.52 230.44 L365.2 229.2 M372.63 223.62 L371.28 224.24 L369.93 225.48 L369.25 227.34 L369.25 228.58 L369.93 230.44 L371.28 231.68 L372.63 232.3 L374.66 232.3 L376.01 231.68 L377.36 230.44 L378.04 228.58 L378.04 227.34 L377.36 225.48 L376.01 224.24 L374.66 223.62 L372.63 223.62 M382.77 223.62 L382.77 232.3 M382.77 226.1 L384.8 224.24 L386.15 223.62 L388.18 223.62 L389.53 224.24 L390.21 226.1 L390.21 232.3 M402.38 225.48 L401.7 224.24 L399.67 223.62 L397.64 223.62 L395.62 224.24 L394.94 225.48 L395.62 226.72 L396.97 227.34 L400.35 227.96 L401.7 228.58 L402.38 229.82 L402.38 230.44 L401.7 231.68 L399.67 232.3 L397.64 232.3 L395.62 231.68 L394.94 230.44 M407.78 219.28 L407.78 229.82 L408.46 231.68 L409.81 232.3 L411.16 232.3 M405.76 223.62 L410.49 223.62 M422.66 223.62 L422.66 232.3 M422.66 225.48 L421.3 224.24 L419.95 223.62 L417.92 223.62 L416.57 224.24 L415.22 225.48 L414.54 227.34 L414.54 228.58 L415.22 230.44 L416.57 231.68 L417.92 232.3 L419.95 232.3 L421.3 231.68 L422.66 230.44 M428.06 223.62 L428.06 232.3 M428.06 226.1 L430.09 224.24 L431.44 223.62 L433.47 223.62 L434.82 224.24 L435.5 226.1 L435.5 232.3 M441.58 219.28 L441.58 229.82 L442.26 231.68 L443.61 232.3 L444.96 232.3 M439.56 223.62 L444.29 223.62 M459.84 223.62 L459.84 232.3 M459.84 227.34 L460.51 225.48 L461.86 224.24 L463.22 223.62 L465.24 223.62"/></g>
<g aria-label="legend CA Constant r">
<path class="cv" stroke="#ffa500" stroke-dasharray="14.2 4.7 2.2 4.7 2.2 4.7 2.2 4.7" d="M185.3 251.45H303"/>
<path class="mk" stroke="#ffa500" d="M179.4 251.45h13 M185.9 244.95v13 M296.1 251.45h13 M302.6 244.95v13"/>
<title>CA Constant r</title><path class="tx" d="M329.37 247.03 L328.69 245.79 L327.34 244.55 L325.99 243.93 L323.28 243.93 L321.93 244.55 L320.58 245.79 L319.9 247.03 L319.23 248.89 L319.23 251.99 L319.9 253.85 L320.58 255.09 L321.93 256.33 L323.28 256.95 L325.99 256.95 L327.34 256.33 L328.69 255.09 L329.37 253.85 M337.48 243.93 L332.07 256.95 M337.48 243.93 L342.89 256.95 M334.1 252.61 L340.86 252.61 M366.55 247.03 L365.87 245.79 L364.52 244.55 L363.17 243.93 L360.46 243.93 L359.11 244.55 L357.76 245.79 L357.08 247.03 L356.41 248.89 L356.41 251.99 L357.08 253.85 L357.76 255.09 L359.11 256.33 L360.46 256.95 L363.17 256.95 L364.52 256.33 L365.87 255.09 L366.55 253.85 M373.98 248.27 L372.63 248.89 L371.28 250.13 L370.6 251.99 L370.6 253.23 L371.28 255.09 L372.63 256.33 L373.98 256.95 L376.01 256.95 L377.36 256.33 L378.72 255.09 L379.39 253.23 L379.39 251.99 L378.72 250.13 L377.36 248.89 L376.01 248.27 L373.98 248.27 M384.12 248.27 L384.12 256.95 M384.12 250.75 L386.15 248.89 L387.5 248.27 L389.53 248.27 L390.88 248.89 L391.56 250.75 L391.56 256.95 M403.73 250.13 L403.05 248.89 L401.02 248.27 L399 248.27 L396.97 248.89 L396.29 250.13 L396.97 251.37 L398.32 251.99 L401.7 252.61 L403.05 253.23 L403.73 254.47 L403.73 255.09 L403.05 256.33 L401.02 256.95 L399 256.95 L396.97 256.33 L396.29 255.09 M409.14 243.93 L409.14 254.47 L409.81 256.33 L411.16 256.95 L412.52 256.95 M407.11 248.27 L411.84 248.27 M424.01 248.27 L424.01 256.95 M424.01 250.13 L422.66 248.89 L421.3 248.27 L419.28 248.27 L417.92 248.89 L416.57 250.13 L415.9 251.99 L415.9 253.23 L416.57 255.09 L417.92 256.33 L419.28 256.95 L421.3 256.95 L422.66 256.33 L424.01 255.09 M429.42 248.27 L429.42 256.95 M429.42 250.75 L431.44 248.89 L432.8 248.27 L434.82 248.27 L436.18 248.89 L436.85 250.75 L436.85 256.95 M442.94 243.93 L442.94 254.47 L443.61 256.33 L444.96 256.95 L446.32 256.95 M440.91 248.27 L445.64 248.27 M461.19 248.27 L461.19 256.95 M461.19 251.99 L461.86 250.13 L463.22 248.89 L464.57 248.27 L466.6 248.27"/></g>
<g clip-path="url(#c)" aria-label="data curves">
<path class="cv" stroke="#ff0000" stroke-dasharray="2.1 4.45" d="M155.6 493.6 L157.6 493.6 L159.6 493.59 L161.61 493.57 L163.61 493.55 L165.61 493.52 L167.61 493.5 L169.61 493.46 L171.61 493.42 L173.61 493.38 L175.61 493.34 L177.61 493.29 L179.61 493.24 L181.61 493.18 L183.61 493.12 L185.61 493.07 L187.61 493 L189.61 492.94 L191.61 492.88 L193.61 492.81 L195.61 492.75 L197.61 492.68 L199.61 492.61 L201.61 492.54 L203.61 492.46 L205.6 492.37 L207.6 492.27 L209.6 492.16 L211.6 492.05 L213.6 491.93 L215.59 491.8 L217.59 491.67 L219.59 491.54 L221.58 491.4 L223.58 491.26 L225.58 491.12 L227.57 490.98 L229.57 490.84 L231.57 490.7 L233.56 490.56 L235.56 490.42 L237.55 490.28 L239.55 490.14 L241.55 489.99 L243.54 489.84 L245.54 489.68 L247.53 489.51 L249.52 489.34 L251.51 489.16 L253.51 488.97 L255.5 488.77 L257.49 488.56 L259.48 488.35 L261.47 488.13 L263.45 487.9 L265.44 487.68 L267.43 487.45 L269.42 487.22 L271.41 486.99 L273.39 486.75 L275.38 486.51 L277.37 486.27 L279.35 486.02 L281.34 485.76 L283.32 485.5 L285.3 485.23 L287.28 484.96 L289.26 484.67 L291.24 484.37 L293.22 484.05 L295.19 483.74 L297.17 483.42 L299.15 483.12 L301.13 482.85 L303.12 482.59 L305.1 482.33 L307.07 482.02 L309.03 481.64 L310.98 481.22 L312.92 480.76 L314.85 480.26 L316.78 479.73 L318.71 479.18 L320.64 478.61 L322.56 478.03 L324.48 477.45 L326.41 476.88 L328.33 476.31 L330.26 475.76 L332.19 475.23 L334.12 474.71 L336.06 474.2 L338 473.7 L339.94 473.2 L341.89 472.7 L343.83 472.2 L345.77 471.69 L347.71 471.18 L349.65 470.66 L351.58 470.14 L353.5 469.6 L355.43 469.04 L357.34 468.48 L359.25 467.89 L361.14 467.28 L363.03 466.66 L364.91 466 L366.79 465.32 L368.66 464.61 L370.52 463.87 L372.38 463.12 L374.23 462.34 L376.07 461.54 L377.91 460.72 L379.73 459.89 L381.55 459.04 L383.36 458.19 L385.15 457.32 L386.94 456.44 L388.72 455.52 L390.48 454.58 L392.24 453.62 L393.99 452.63 L395.73 451.63 L397.45 450.61 L399.17 449.58 L400.88 448.55 L402.59 447.51 L404.31 446.46 L406.02 445.41 L407.72 444.33 L409.4 443.22 L411.05 442.08 L412.66 440.91 L414.22 439.69 L415.72 438.39 L417.12 436.96 L418.53 435.52 L420.02 434.19 L421.57 432.92 L423.14 431.68 L424.71 430.43 L426.26 429.17 L427.81 427.91 L429.35 426.63 L430.86 425.32 L432.36 423.99 L433.86 422.66 L435.37 421.35 L436.89 420.06 L438.41 418.76 L439.91 417.43 L441.39 416.08 L442.85 414.71 L444.28 413.32 L445.68 411.88 L447.04 410.42 L448.39 408.94 L449.72 407.44 L451.04 405.94 L452.35 404.43 L453.65 402.91 L454.94 401.38 L456.22 399.84 L457.5 398.3 L458.77 396.75 L460.03 395.2 L461.29 393.64 L462.53 392.08 L463.77 390.5 L464.99 388.91 L466.19 387.31 L467.37 385.7 L468.55 384.08 L469.75 382.48 L470.97 380.89 L472.19 379.31 L473.39 377.71 L474.56 376.08 L475.71 374.45 L476.88 372.83 L478.07 371.22 L479.27 369.62 L480.47 368.01 L481.66 366.4 L482.85 364.8 L484.05 363.19 L485.24 361.58 L486.41 359.95 L487.55 358.31 L488.66 356.65 L489.72 354.96 L490.75 353.24 L491.75 351.51 L492.76 349.77 L493.78 348.05 L494.84 346.36 L495.97 344.71 L497.17 343.1 L498.35 341.49 L499.42 339.8 L500.37 338.04 L501.28 336.26 L502.22 334.49 L503.19 332.74 L504.17 330.99 L505.16 329.25 L506.17 327.53 L507.2 325.81 L508.21 324.08 L509.16 322.33 L510.05 320.53 L510.93 318.73 L511.83 316.95 L512.79 315.19 L513.75 313.43 L514.67 311.66 L515.53 309.85 L516.35 308.03 L517.17 306.2 L518.03 304.4 L518.91 302.6 L519.81 300.81 L520.71 299.03 L521.62 297.25 L522.54 295.47 L523.45 293.68 L524.36 291.9 L525.26 290.11 L526.14 288.32 L527.02 286.52 L527.89 284.72 L528.74 282.9 L529.55 281.08 L530.32 279.23 L531.08 277.38 L531.82 275.52 L532.55 273.66 L533.28 271.8 L534.03 269.94 L534.79 268.08 L535.55 266.23 L536.27 264.37 L536.93 262.48 L537.56 260.59 L538.16 258.68 L538.75 256.77 L539.32 254.85 L539.89 252.93 L540.46 251.01 L541.04 249.09 L541.63 247.18 L542.24 245.27 L542.86 243.37 L543.49 241.47 L544.14 239.58 L544.78 237.68 L545.43 235.79 L546.07 233.89 L546.7 231.99 L547.33 230.09 L547.94 228.19 L548.55 226.28 L549.16 224.38 L549.77 222.47 L550.38 220.56 L550.99 218.65 L551.58 216.73 L552.15 214.82 L552.71 212.89 L553.24 210.97 L553.74 209.04 L554.22 207.1 L554.66 205.15 L555.09 203.2 L555.49 201.24 L555.89 199.28 L556.27 197.32 L556.64 195.35 L557.01 193.38 L557.38 191.41 L557.74 189.44 L558.12 187.47 L558.5 185.51 L558.89 183.54 L559.29 181.58 L559.7 179.62 L560.11 177.66 L560.52 175.71 L560.93 173.75 L561.34 171.79 L561.76 169.83 L562.18 167.88 L562.59 165.92 L563.01 163.96 L563.43 162.01 L563.87 160.05 L564.3 158.1 L564.74 156.14 L565.16 154.19 L565.57 152.23 L565.95 150.27 L566.31 148.3 L566.67 146.33 L567.03 144.36 L567.37 142.39 L567.71 140.42 L568.04 138.44 L568.37 136.47 L568.68 134.49 L568.98 132.51 L569.27 130.53 L569.54 128.55 L569.8 126.57 L570.05 124.58 L570.28 122.6 L570.51 120.61 L570.72 118.62 L570.92 116.63 L571.12 114.64 L571.31 112.64 L571.49 110.65 L571.67 108.66 L571.85 106.66 L572.03 104.67 L572.2 102.68 L572.37 100.68 L572.54 98.69 L572.7 96.7 L572.86 94.7 L573.02 92.71 L573.17 90.71 L573.32 88.72 L573.47 86.72 L573.62 84.73 L573.76 82.73 L573.9 80.73 L574.03 78.74 L574.16 76.74 L574.29 74.74 L574.42 72.75 L574.56 70.75 L574.7 68.75 L574.85 66.76 L575.02 64.77 L575.21 62.78 L575.43 60.79 L575.66 58.8 L575.89 56.81 L576.12 54.82 L576.32 52.83 L576.5 50.84 L576.66 48.85 L576.81 46.85 L576.95 44.85 L577.09 42.86 L577.22 40.86 L577.35 38.86 L577.49 36.87 L577.63 34.87 L577.77 32.87 L577.93 30.88 L578.09 28.89 L578.27 26.89 L578.45 24.9 L578.64 22.91 L578.84 20.92 L579.03 18.93 L579.24 16.94 L579.44 14.95 L579.65 12.96 L579.86 10.97 L580.07 8.98 L580.28 6.99 L580.49 5 L580.7 3.01 L580.9 1.01 L581.1 -1 L581.3 -3.17 L581.5 -5.5 L581.69 -7.95 L581.89 -10.49 L582.09 -13.1 L582.29 -15.75 L582.49 -18.4 L582.69 -21.03 L582.89 -23.6 L583.09 -26.1 L583.29 -28.48 L583.49 -30.72 L583.69 -32.78 L583.88 -34.65 L584.08 -36.29 L584.28 -37.66 L584.48 -38.75 L584.68 -39.51 L584.88 -39.93 L585.08 -39.97 L585.28 -39.63 L585.48 -38.93 L585.68 -37.9 L585.88 -36.58 L586.08 -35 L586.27 -33.18 L586.47 -31.15 L586.67 -28.94 L586.87 -26.59 L587.07 -24.11 L587.27 -21.55 L587.47 -18.93 L587.67 -16.28 L587.87 -13.63 L588.07 -11.01 L588.27 -8.45 L588.46 -5.98 L588.66 -3.63 L588.86 -1.42 L589.06 0.61 L589.26 2.61 L589.47 4.6 L589.67 6.59 L589.88 8.58 L590.09 10.57 L590.29 12.56 L590.5 14.55 L590.7 16.54 L590.9 18.53 L591.1 20.52 L591.3 22.51 L591.49 24.5 L591.68 26.49 L591.86 28.49 L592.04 30.48 L592.22 32.47 L592.41 34.47 L592.6 36.46 L592.78 38.45 L592.96 40.45 L593.12 42.44 L593.28 44.44 L593.41 46.43 L593.53 48.43 L593.62 50.43 L593.69 52.42 L593.77 54.42 L593.83 56.42 L593.89 58.42 L593.94 60.42 L593.99 62.42 L594.04 64.42 L594.09 66.42 L594.13 68.42 L594.18 70.42 L594.22 72.43 L594.26 74.43 L594.31 76.43 L594.36 78.43 L594.41 80.43 L594.47 82.43 L594.52 84.43 L594.57 86.43 L594.63 88.43 L594.68 90.43 L594.74 92.43 L594.79 94.43 L594.85 96.43 L594.9 98.43 L594.96 100.43 L595.01 102.43 L595.06 104.43 L595.11 106.43 L595.16 108.43 L595.21 110.43 L595.26 112.43 L595.3 114.43 L595.35 116.43 L595.39 118.43 L595.43 120.43 L595.48 122.43 L595.52 124.43 L595.56 126.44 L595.6 128.44 L595.64 130.44 L595.69 132.44 L595.73 134.44 L595.77 136.44 L595.82 138.44 L595.86 140.44 L595.91 142.44 L595.96 144.44 L596.01 146.44 L596.07 148.44 L596.12 150.44 L596.18 152.44 L596.24 154.44 L596.3 156.44 L596.36 158.44 L596.42 160.44 L596.49 162.44 L596.55 164.44 L596.62 166.44 L596.69 168.44 L596.75 170.44 L596.82 172.44 L596.88 174.44 L596.95 176.44 L597.01 178.44 L597.08 180.44 L597.15 182.44 L597.22 184.44 L597.29 186.44 L597.36 188.44 L597.44 190.44 L597.51 192.44 L597.58 194.43 L597.65 196.43 L597.72 198.43 L597.78 200.43 L597.84 202.43 L597.9 204.43 L597.96 206.43 L598.01 208.43 L598.06 210.43 L598.1 212.43 L598.14 214.44 L598.18 216.44 L598.22 218.44 L598.26 220.44 L598.3 222.44 L598.33 224.44 L598.37 226.44 L598.4 228.44 L598.44 230.44 L598.48 232.44 L598.52 234.44 L598.56 236.44 L598.61 238.44 L598.66 240.44 L598.71 242.44 L598.77 244.44 L598.83 246.44 L598.89 248.44 L598.95 250.44 L599.01 252.44 L599.07 254.44 L599.13 256.44 L599.19 258.44 L599.25 260.44 L599.3 262.44 L599.36 264.44 L599.41 266.44 L599.46 268.44 L599.51 270.44 L599.56 272.44 L599.61 274.44 L599.66 276.44 L599.71 278.44 L599.76 280.44 L599.8 282.44 L599.85 284.45 L599.89 286.45 L599.93 288.45 L599.97 290.45 L600.01 292.45 L600.04 294.45 L600.07 296.45 L600.1 298.45 L600.13 300.45 L600.15 302.45 L600.18 304.45 L600.21 306.45 L600.23 308.45 L600.26 310.45 L600.29 312.45 L600.33 314.46 L600.37 316.46 L600.41 318.46 L600.46 320.46 L600.53 322.46 L600.6 324.45 L600.68 326.45 L600.76 328.45 L600.85 330.45 L600.93 332.45 L601.02 334.45 L601.11 336.45 L601.21 338.45 L601.32 340.45 L601.43 342.44 L601.54 344.44 L601.65 346.44 L601.75 348.44 L601.85 350.44 L601.94 352.44 L602.02 354.44 L602.08 356.43 L602.14 358.44 L602.19 360.44 L602.23 362.44 L602.27 364.44 L602.31 366.44 L602.35 368.44 L602.39 370.44 L602.44 372.45 L602.48 374.45 L602.54 376.45 L602.6 378.45 L602.67 380.44 L602.76 382.44 L602.86 384.43 L603.04 386.43 L603.25 388.42 L603.46 390.41 L603.66 392.4 L603.88 394.39 L604.1 396.38 L604.34 398.36 L604.6 400.35 L604.84 402.34 L605.04 404.33 L605.21 406.32 L605.38 408.31 L605.61 410.3 L605.92 412.28 L606.25 414.25 L606.54 416.23 L606.79 418.22 L607.02 420.2 L607.23 422.19 L607.44 424.18 L607.66 426.17 L607.89 428.16 L608.15 430.14 L608.42 432.13 L608.7 434.11 L609 436.09 L609.3 438.07 L609.61 440.04 L609.91 442.02 L610.21 444.01 L610.52 445.99 L610.83 447.97 L611.18 449.94 L611.55 451.91 L611.97 453.85 L612.44 455.78 L612.99 457.71 L613.6 459.62 L614.27 461.53 L614.97 463.41 L615.7 465.27 L616.46 467.11 L617.26 468.95 L618.12 470.79 L619.03 472.6 L620 474.36 L621.03 476.07 L622.14 477.69 L623.4 479.2 L624.81 480.64 L626.26 482.05 L627.65 483.51 L629 485.04 L630.39 486.49 L631.92 487.68 L633.64 488.67 L635.49 489.54 L637.36 490.26 L639.26 490.86 L641.2 491.38 L643.15 491.84 L645.1 492.29 L647.07 492.71 L649.04 493.06 L651.01 493.33 L653 493.55 L655 493.72 L657 493.82 L658.99 493.89 L660.99 493.95 L663 493.99 L665 494"><title>IS Variable r</title></path>
<path class="cv" stroke="#ff0000" stroke-dasharray="2.1 4.45" d="M155.6 493 L194.4 490.1 L216.1 487.7 L231.8 486 L245.6 483.8 L257.3 482.3 L304.5 472 L331 461 L351 451 L366 442 L379 433 L390 425 L399 417 L407.2 410.8 L413.9 402.4 L441.5 373.5 L461 352.2 L476.4 336.1 L482.9 330.1 L487.9 326 L491.7 322.4 L495.5 318.9 L499.4 315.3 L508.4 308.7 L523.5 300.6 L536 299 L546.4 299 L557 301 L564 304.4 L571.4 310.4 L583.4 323 L593.6 336 L602.6 350 L611 363 L619 375 L633.6 401.6 L645.6 425.4 L656 447 L673 493.6"><title>IS Constant r</title></path>
<path class="mk" stroke="#ff0000" d="M189.3 490.1h10.2 M194.4 485v10.2 M211 487.7h10.2 M216.1 482.6v10.2 M226.7 486h10.2 M231.8 480.9v10.2 M240.5 483.8h10.2 M245.6 478.7v10.2 M252.2 482.3h10.2 M257.3 477.2v10.2 M299.4 472h10.2 M304.5 466.9v10.2 M325.9 461h10.2 M331 455.9v10.2 M345.9 451h10.2 M351 445.9v10.2 M360.9 442h10.2 M366 436.9v10.2 M373.9 433h10.2 M379 427.9v10.2 M384.9 425h10.2 M390 419.9v10.2 M393.9 417h10.2 M399 411.9v10.2 M402.1 410.8h10.2 M407.2 405.7v10.2 M408.8 402.4h10.2 M413.9 397.3v10.2 M436.4 373.5h10.2 M441.5 368.4v10.2 M455.9 352.2h10.2 M461 347.1v10.2 M471.3 336.1h10.2 M476.4 331v10.2 M477.8 330.1h10.2 M482.9 325v10.2 M482.8 326h10.2 M487.9 320.9v10.2 M486.6 322.4h10.2 M491.7 317.3v10.2 M490.4 318.9h10.2 M495.5 313.8v10.2 M494.3 315.3h10.2 M499.4 310.2v10.2 M503.3 308.7h10.2 M508.4 303.6v10.2 M518.4 300.6h10.2 M523.5 295.5v10.2 M530.9 299h10.2 M536 293.9v10.2 M541.3 299h10.2 M546.4 293.9v10.2 M551.9 301h10.2 M557 295.9v10.2 M558.9 304.4h10.2 M564 299.3v10.2 M566.3 310.4h10.2 M571.4 305.3v10.2 M578.3 323h10.2 M583.4 317.9v10.2 M588.5 336h10.2 M593.6 330.9v10.2 M597.5 350h10.2 M602.6 344.9v10.2 M605.9 363h10.2 M611 357.9v10.2 M613.9 375h10.2 M619 369.9v10.2 M628.5 401.6h10.2 M633.6 396.5v10.2 M640.5 425.4h10.2 M645.6 420.3v10.2 M650.9 447h10.2 M656 441.9v10.2 M667.9 493.6h10.2 M673 488.5v10.2"/>
<path class="cv" stroke="#0000ff" stroke-dasharray="9.7 9.0" d="M155.6 490.8 L157.6 490.69 L159.6 490.58 L161.6 490.47 L163.61 490.36 L165.61 490.26 L167.61 490.15 L169.61 490.05 L171.61 489.95 L173.61 489.84 L175.61 489.74 L177.62 489.64 L179.62 489.55 L181.62 489.45 L183.62 489.37 L185.62 489.28 L187.62 489.2 L189.62 489.11 L191.63 489.02 L193.63 488.93 L195.63 488.82 L197.63 488.71 L199.63 488.59 L201.63 488.46 L203.63 488.31 L205.64 488.16 L207.64 488 L209.64 487.83 L211.64 487.65 L213.64 487.45 L215.64 487.25 L217.65 487.02 L219.65 486.76 L221.65 486.48 L223.65 486.17 L225.65 485.84 L227.65 485.5 L229.65 485.16 L231.66 484.81 L233.66 484.47 L235.66 484.13 L237.66 483.77 L239.66 483.39 L241.66 483.01 L243.66 482.63 L245.67 482.25 L247.67 481.86 L249.67 481.48 L251.67 481.11 L253.67 480.75 L255.67 480.41 L257.67 480.08 L259.68 479.76 L261.68 479.44 L263.68 479.12 L265.68 478.79 L267.68 478.44 L269.68 478.08 L271.68 477.68 L273.69 477.26 L275.69 476.8 L277.69 476.32 L279.69 475.82 L281.69 475.3 L283.69 474.76 L285.69 474.22 L287.7 473.67 L289.7 473.12 L291.7 472.57 L293.7 472.01 L295.7 471.44 L297.7 470.86 L299.7 470.26 L301.71 469.65 L303.71 469.01 L305.71 468.34 L307.71 467.65 L309.71 466.91 L311.71 466.13 L313.71 465.32 L315.72 464.48 L317.72 463.62 L319.72 462.75 L321.72 461.88 L323.72 461.01 L325.72 460.13 L327.73 459.25 L329.73 458.35 L331.73 457.44 L333.73 456.5 L335.73 455.54 L337.73 454.54 L339.73 453.51 L341.74 452.43 L343.74 451.28 L345.74 450.09 L347.74 448.85 L349.74 447.58 L351.74 446.29 L353.74 445 L355.75 443.71 L357.75 442.42 L359.75 441.12 L361.75 439.82 L363.75 438.5 L365.75 437.17 L367.75 435.81 L369.76 434.42 L371.76 433.01 L373.76 431.55 L375.76 430.06 L377.76 428.53 L379.76 426.96 L381.76 425.34 L383.77 423.67 L385.77 421.95 L387.77 420.15 L389.77 418.25 L391.77 416.26 L393.77 414.23 L395.77 412.18 L397.78 410.13 L399.78 408.11 L401.78 406.16 L403.78 404.24 L405.78 402.33 L407.78 400.43 L409.78 398.5 L411.79 396.53 L413.79 394.51 L415.79 392.44 L417.79 390.33 L419.79 388.18 L421.79 385.98 L423.79 383.72 L425.8 381.4 L427.8 378.95 L429.8 376.41 L431.8 373.82 L433.8 371.22 L435.8 368.68 L437.81 366.23 L439.81 363.9 L441.81 361.65 L443.81 359.44 L445.81 357.25 L447.81 355.05 L449.81 352.82 L451.82 350.54 L453.82 348.22 L455.82 345.87 L457.82 343.53 L459.82 341.21 L461.82 338.92 L463.82 336.69 L465.83 334.55 L467.83 332.48 L469.83 330.45 L471.83 328.41 L473.83 326.34 L475.83 324.18 L477.83 321.84 L479.84 319.4 L481.84 317.16 L483.84 315.26 L485.84 313.51 L487.84 311.88 L489.84 310.32 L491.84 308.78 L493.85 307.26 L495.85 305.78 L497.85 304.36 L499.85 303.02 L501.85 301.78 L503.85 300.66 L505.85 299.59 L507.86 298.51 L509.86 297.46 L511.86 296.47 L513.86 295.56 L515.86 294.77 L517.86 294.12 L519.86 293.64 L521.87 293.33 L523.87 293.05 L525.87 292.82 L527.87 292.66 L529.87 292.6 L531.87 292.72 L533.87 293.07 L535.88 293.57 L537.88 294.16 L539.88 294.79 L541.88 295.62 L543.88 296.65 L545.88 297.86 L547.89 299.2 L549.89 300.64 L551.89 302.15 L553.89 303.68 L555.89 305.23 L557.89 306.88 L559.89 308.66 L561.9 310.56 L563.9 312.59 L565.9 314.75 L567.9 317.06 L569.9 319.64 L571.9 322.6 L573.9 325.78 L575.91 329.03 L577.91 332.2 L579.91 335.24 L581.91 338.21 L583.91 341.17 L585.91 344.15 L587.91 347.17 L589.92 350.27 L591.92 353.49 L593.92 356.86 L595.92 360.44 L597.92 364.24 L599.92 368.18 L601.92 372.22 L603.93 376.27 L605.93 380.29 L607.93 384.22 L609.93 388.14 L611.93 392.06 L613.93 395.95 L615.93 399.76 L617.94 403.52 L619.94 407.24 L621.94 410.94 L623.94 414.66 L625.94 418.41 L627.94 422.17 L629.94 425.91 L631.95 429.61 L633.95 433.3 L635.95 437.06 L637.95 440.69 L639.95 443.93 L641.95 446.8 L643.95 449.49 L645.96 452.02 L647.96 454.43 L649.96 456.73 L651.96 458.96 L653.96 461.13 L655.96 463.26 L657.97 465.33 L659.97 467.32 L661.97 469.25 L663.97 471.1 L665.97 472.87 L667.97 474.56 L669.97 476.21 L671.98 477.83 L673.98 479.39 L675.98 480.89 L677.98 482.31 L679.98 483.64 L681.98 484.87 L683.98 486.05 L685.99 487.22 L687.99 488.37 L689.99 489.47 L691.99 490.49 L693.99 491.4 L695.99 492.16 L697.99 492.77 L700 493.2 L702 493.56 L704 493.84 L706 494"><title>2CTC Variable r</title></path>
<path class="cv" stroke="#0000ff" stroke-dasharray="9.7 9.0" d="M155.6 487 L201.2 480.2 L228.8 473.4 L248.4 467.6 L263.5 461.6 L275.6 456.5 L286.5 451.5 L294.9 447.3 L300.8 444 L304.7 441.4 L308 439.5 L338.4 416.2 L357.8 397.9 L373 383.2 L379.8 378.8 L385.9 374.3 L391.2 370.5 L396.1 367.5 L405.4 361.8 L420.2 353.6 L432.9 349.2 L443.4 346.7 L452.6 345.1 L460.7 344.8 L468 345 L480.3 346.7 L490.9 349.1 L500 352.4 L508 355.8 L515.2 359.2 L530 367 L543 375 L554.1 382.2 L562.1 388.5 L570.3 394.7 L577.6 400 L584.4 405.2 L590.2 409.4 L595.9 414.1 L601.2 418.3 L605.9 421.4 L609.5 424.5 L613.7 427.2 L617.9 430.3 L621.5 432.9 L625.2 435.3 L653 450 L670 460 L685 467 L700 474.4 L718.5 481.8 L734 493"><title>2CTC Constant r</title></path>
<path class="mk" stroke="#0000ff" d="M196.1 480.2h10.2 M201.2 475.1v10.2 M223.7 473.4h10.2 M228.8 468.3v10.2 M243.3 467.6h10.2 M248.4 462.5v10.2 M258.4 461.6h10.2 M263.5 456.5v10.2 M270.5 456.5h10.2 M275.6 451.4v10.2 M281.4 451.5h10.2 M286.5 446.4v10.2 M289.8 447.3h10.2 M294.9 442.2v10.2 M295.7 444h10.2 M300.8 438.9v10.2 M299.6 441.4h10.2 M304.7 436.3v10.2 M302.9 439.5h10.2 M308 434.4v10.2 M333.3 416.2h10.2 M338.4 411.1v10.2 M352.7 397.9h10.2 M357.8 392.8v10.2 M367.9 383.2h10.2 M373 378.1v10.2 M374.7 378.8h10.2 M379.8 373.7v10.2 M380.8 374.3h10.2 M385.9 369.2v10.2 M386.1 370.5h10.2 M391.2 365.4v10.2 M391 367.5h10.2 M396.1 362.4v10.2 M400.3 361.8h10.2 M405.4 356.7v10.2 M415.1 353.6h10.2 M420.2 348.5v10.2 M427.8 349.2h10.2 M432.9 344.1v10.2 M438.3 346.7h10.2 M443.4 341.6v10.2 M447.5 345.1h10.2 M452.6 340v10.2 M455.6 344.8h10.2 M460.7 339.7v10.2 M462.9 345h10.2 M468 339.9v10.2 M475.2 346.7h10.2 M480.3 341.6v10.2 M485.8 349.1h10.2 M490.9 344v10.2 M494.9 352.4h10.2 M500 347.3v10.2 M502.9 355.8h10.2 M508 350.7v10.2 M510.1 359.2h10.2 M515.2 354.1v10.2 M524.9 367h10.2 M530 361.9v10.2 M537.9 375h10.2 M543 369.9v10.2 M549 382.2h10.2 M554.1 377.1v10.2 M557 388.5h10.2 M562.1 383.4v10.2 M565.2 394.7h10.2 M570.3 389.6v10.2 M572.5 400h10.2 M577.6 394.9v10.2 M579.3 405.2h10.2 M584.4 400.1v10.2 M585.1 409.4h10.2 M590.2 404.3v10.2 M590.8 414.1h10.2 M595.9 409v10.2 M596.1 418.3h10.2 M601.2 413.2v10.2 M600.8 421.4h10.2 M605.9 416.3v10.2 M604.4 424.5h10.2 M609.5 419.4v10.2 M608.6 427.2h10.2 M613.7 422.1v10.2 M612.8 430.3h10.2 M617.9 425.2v10.2 M616.4 432.9h10.2 M621.5 427.8v10.2 M620.1 435.3h10.2 M625.2 430.2v10.2 M647.9 450h10.2 M653 444.9v10.2 M664.9 460h10.2 M670 454.9v10.2 M679.9 467h10.2 M685 461.9v10.2 M694.9 474.4h10.2 M700 469.3v10.2 M713.4 481.8h10.2 M718.5 476.7v10.2 M728.9 493h10.2 M734 487.9v10.2"/>
<path class="cv" stroke="#00ff00" stroke-dasharray="9.4 4.7 2.2 4.7" d="M155.6 473.3 L157.6 473.02 L159.6 472.74 L161.6 472.47 L163.61 472.19 L165.61 471.92 L167.61 471.65 L169.61 471.38 L171.61 471.12 L173.61 470.85 L175.61 470.59 L177.61 470.33 L179.62 470.07 L181.62 469.81 L183.62 469.56 L185.62 469.32 L187.62 469.08 L189.62 468.85 L191.62 468.62 L193.63 468.37 L195.63 468.12 L197.63 467.86 L199.63 467.58 L201.63 467.28 L203.63 466.95 L205.63 466.59 L207.64 466.23 L209.64 465.87 L211.64 465.53 L213.64 465.2 L215.64 464.89 L217.64 464.58 L219.64 464.27 L221.64 463.97 L223.65 463.66 L225.65 463.35 L227.65 463.03 L229.65 462.71 L231.65 462.37 L233.65 461.99 L235.65 461.53 L237.66 461.04 L239.66 460.54 L241.66 460.08 L243.66 459.68 L245.66 459.33 L247.66 459.02 L249.66 458.72 L251.67 458.4 L253.67 458.05 L255.67 457.67 L257.67 457.26 L259.67 456.84 L261.67 456.41 L263.67 455.98 L265.67 455.56 L267.68 455.14 L269.68 454.72 L271.68 454.29 L273.68 453.87 L275.68 453.45 L277.68 453.01 L279.68 452.58 L281.69 452.14 L283.69 451.69 L285.69 451.23 L287.69 450.75 L289.69 450.27 L291.69 449.78 L293.69 449.28 L295.7 448.77 L297.7 448.26 L299.7 447.75 L301.7 447.23 L303.7 446.72 L305.7 446.21 L307.7 445.69 L309.7 445.18 L311.71 444.65 L313.71 444.12 L315.71 443.59 L317.71 443.05 L319.71 442.51 L321.71 441.96 L323.71 441.38 L325.72 440.78 L327.72 440.16 L329.72 439.52 L331.72 438.87 L333.72 438.2 L335.72 437.52 L337.72 436.81 L339.73 436.09 L341.73 435.36 L343.73 434.63 L345.73 433.91 L347.73 433.2 L349.73 432.48 L351.73 431.77 L353.73 431.07 L355.74 430.38 L357.74 429.71 L359.74 429.05 L361.74 428.39 L363.74 427.72 L365.74 427.04 L367.74 426.36 L369.75 425.67 L371.75 424.95 L373.75 424.21 L375.75 423.43 L377.75 422.62 L379.75 421.78 L381.75 420.92 L383.76 420.04 L385.76 419.15 L387.76 418.25 L389.76 417.33 L391.76 416.4 L393.76 415.45 L395.76 414.46 L397.76 413.44 L399.77 412.39 L401.77 411.28 L403.77 410.08 L405.77 408.79 L407.77 407.44 L409.77 406.05 L411.77 404.65 L413.78 403.26 L415.78 401.92 L417.78 400.64 L419.78 399.46 L421.78 398.38 L423.78 397.38 L425.78 396.41 L427.79 395.42 L429.79 394.37 L431.79 393.23 L433.79 392.01 L435.79 390.76 L437.79 389.52 L439.79 388.33 L441.79 387.2 L443.8 386.1 L445.8 385 L447.8 383.86 L449.8 382.64 L451.8 381.35 L453.8 380.04 L455.8 378.74 L457.81 377.49 L459.81 376.3 L461.81 375.13 L463.81 373.96 L465.81 372.79 L467.81 371.59 L469.81 370.35 L471.81 369.12 L473.82 367.91 L475.82 366.77 L477.82 365.68 L479.82 364.64 L481.82 363.61 L483.82 362.56 L485.82 361.46 L487.83 360.31 L489.83 359.15 L491.83 358.02 L493.83 356.98 L495.83 356.03 L497.83 355.12 L499.83 354.27 L501.84 353.47 L503.84 352.73 L505.84 352.02 L507.84 351.33 L509.84 350.7 L511.84 350.15 L513.84 349.68 L515.84 349.22 L517.85 348.77 L519.85 348.39 L521.85 348.11 L523.85 348 L525.85 348.09 L527.85 348.37 L529.85 348.79 L531.86 349.3 L533.86 349.86 L535.86 350.43 L537.86 350.97 L539.86 351.45 L541.86 351.94 L543.86 352.45 L545.87 352.99 L547.87 353.58 L549.87 354.22 L551.87 354.95 L553.87 355.8 L555.87 356.81 L557.87 357.95 L559.87 359.2 L561.88 360.53 L563.88 361.91 L565.88 363.38 L567.88 364.98 L569.88 366.7 L571.88 368.52 L573.88 370.42 L575.89 372.39 L577.89 374.47 L579.89 376.72 L581.89 379.07 L583.89 381.45 L585.89 383.78 L587.89 386.04 L589.9 388.3 L591.9 390.56 L593.9 392.86 L595.9 395.16 L597.9 397.49 L599.9 399.93 L601.9 402.56 L603.9 405.29 L605.91 407.89 L607.91 410.23 L609.91 412.43 L611.91 414.64 L613.91 417 L615.91 419.5 L617.91 422.01 L619.92 424.37 L621.92 426.56 L623.92 428.67 L625.92 430.77 L627.92 432.93 L629.92 435.14 L631.92 437.33 L633.93 439.42 L635.93 441.39 L637.93 443.28 L639.93 445.12 L641.93 446.94 L643.93 448.75 L645.93 450.56 L647.93 452.3 L649.94 453.95 L651.94 455.53 L653.94 457.11 L655.94 458.66 L657.94 460.18 L659.94 461.66 L661.94 463.08 L663.95 464.44 L665.95 465.71 L667.95 466.9 L669.95 467.97 L671.95 468.96 L673.95 469.88 L675.95 470.74 L677.96 471.55 L679.96 472.32 L681.96 473.07 L683.96 473.8 L685.96 474.52 L687.96 475.25 L689.96 475.99 L691.96 476.73 L693.97 477.46 L695.97 478.19 L697.97 478.91 L699.97 479.62 L701.97 480.31 L703.97 481 L705.97 481.68 L707.98 482.34 L709.98 482.99 L711.98 483.63 L713.98 484.24 L715.98 484.84 L717.98 485.43 L719.98 486.01 L721.99 486.59 L723.99 487.17 L725.99 487.77 L727.99 488.37 L729.99 489 L731.99 489.64 L733.99 490.29 L735.99 490.96 L738 491.63 L740 492.31 L742 493 L744 493.7"><title>TC Variable r</title></path>
<path class="cv" stroke="#00ff00" stroke-dasharray="9.4 4.7 2.2 4.7" d="M155.6 456.2 L211 449.4 L243 443.4 L265 437 L281 433 L294.3 429.5 L305.5 427.2 L353 416.2 L381 410 L400 407 L416 404.5 L427 403.6 L439 403.4 L448 403.2 L456 403 L462.4 403 L490 404.4 L510 407 L525 410 L532 412 L538 413.6 L543 415 L548 417 L557 419.6 L572 423 L584 428 L594 432 L603 435 L610 437.6 L618 441 L632 445 L640 448 L647 451 L653 453 L660 455.4 L667 458.4 L682 464 L694 467.6 L705.6 471 L714 473.4 L722 475.6 L729 477.4 L736 479 L742.4 480.4 L747.5 481.9 L765 486.5 L783.5 490.5"><title>TC Constant r</title></path>
<path class="mk" stroke="#00ff00" d="M205.9 449.4h10.2 M211 444.3v10.2 M237.9 443.4h10.2 M243 438.3v10.2 M259.9 437h10.2 M265 431.9v10.2 M275.9 433h10.2 M281 427.9v10.2 M289.2 429.5h10.2 M294.3 424.4v10.2 M300.4 427.2h10.2 M305.5 422.1v10.2 M347.9 416.2h10.2 M353 411.1v10.2 M375.9 410h10.2 M381 404.9v10.2 M394.9 407h10.2 M400 401.9v10.2 M410.9 404.5h10.2 M416 399.4v10.2 M421.9 403.6h10.2 M427 398.5v10.2 M433.9 403.4h10.2 M439 398.3v10.2 M442.9 403.2h10.2 M448 398.1v10.2 M450.9 403h10.2 M456 397.9v10.2 M457.3 403h10.2 M462.4 397.9v10.2 M484.9 404.4h10.2 M490 399.3v10.2 M504.9 407h10.2 M510 401.9v10.2 M519.9 410h10.2 M525 404.9v10.2 M526.9 412h10.2 M532 406.9v10.2 M532.9 413.6h10.2 M538 408.5v10.2 M537.9 415h10.2 M543 409.9v10.2 M542.9 417h10.2 M548 411.9v10.2 M551.9 419.6h10.2 M557 414.5v10.2 M566.9 423h10.2 M572 417.9v10.2 M578.9 428h10.2 M584 422.9v10.2 M588.9 432h10.2 M594 426.9v10.2 M597.9 435h10.2 M603 429.9v10.2 M604.9 437.6h10.2 M610 432.5v10.2 M612.9 441h10.2 M618 435.9v10.2 M626.9 445h10.2 M632 439.9v10.2 M634.9 448h10.2 M640 442.9v10.2 M641.9 451h10.2 M647 445.9v10.2 M647.9 453h10.2 M653 447.9v10.2 M654.9 455.4h10.2 M660 450.3v10.2 M661.9 458.4h10.2 M667 453.3v10.2 M676.9 464h10.2 M682 458.9v10.2 M688.9 467.6h10.2 M694 462.5v10.2 M700.5 471h10.2 M705.6 465.9v10.2 M708.9 473.4h10.2 M714 468.3v10.2 M716.9 475.6h10.2 M722 470.5v10.2 M723.9 477.4h10.2 M729 472.3v10.2 M730.9 479h10.2 M736 473.9v10.2 M737.3 480.4h10.2 M742.4 475.3v10.2 M742.4 481.9h10.2 M747.5 476.8v10.2"/>
<path class="cv" stroke="#ffa500" stroke-dasharray="14.2 4.7 2.2 4.7 2.2 4.7 2.2 4.7" d="M155.6 459.3 L157.61 459.16 L159.61 459.02 L161.62 458.87 L163.62 458.71 L165.63 458.54 L167.64 458.37 L169.64 458.19 L171.65 458.01 L173.65 457.82 L175.66 457.63 L177.67 457.43 L179.67 457.23 L181.68 457.03 L183.68 456.81 L185.69 456.58 L187.7 456.34 L189.7 456.09 L191.71 455.84 L193.72 455.58 L195.72 455.32 L197.73 455.06 L199.73 454.79 L201.74 454.53 L203.75 454.27 L205.75 454.02 L207.76 453.76 L209.76 453.5 L211.77 453.24 L213.78 452.98 L215.78 452.72 L217.79 452.46 L219.79 452.2 L221.8 451.93 L223.81 451.66 L225.81 451.38 L227.82 451.1 L229.82 450.81 L231.83 450.52 L233.84 450.22 L235.84 449.92 L237.85 449.61 L239.85 449.29 L241.86 448.96 L243.87 448.62 L245.87 448.26 L247.88 447.89 L249.89 447.52 L251.89 447.13 L253.9 446.74 L255.9 446.33 L257.91 445.93 L259.92 445.52 L261.92 445.1 L263.93 444.68 L265.93 444.27 L267.94 443.85 L269.95 443.43 L271.95 443.02 L273.96 442.6 L275.96 442.2 L277.97 441.8 L279.98 441.4 L281.98 441.02 L283.99 440.63 L285.99 440.26 L288 439.88 L290.01 439.51 L292.01 439.13 L294.02 438.76 L296.02 438.39 L298.03 438.02 L300.04 437.65 L302.04 437.28 L304.05 436.91 L306.06 436.53 L308.06 436.16 L310.07 435.77 L312.07 435.39 L314.08 435 L316.09 434.61 L318.09 434.21 L320.1 433.81 L322.1 433.39 L324.11 432.98 L326.12 432.56 L328.12 432.13 L330.13 431.71 L332.13 431.29 L334.14 430.86 L336.15 430.43 L338.15 429.99 L340.16 429.55 L342.16 429.1 L344.17 428.64 L346.18 428.17 L348.18 427.7 L350.19 427.21 L352.19 426.71 L354.2 426.19 L356.21 425.66 L358.21 425.12 L360.22 424.55 L362.23 423.94 L364.23 423.29 L366.24 422.61 L368.24 421.91 L370.25 421.2 L372.26 420.5 L374.26 419.8 L376.27 419.13 L378.27 418.49 L380.28 417.86 L382.29 417.24 L384.29 416.62 L386.3 416.02 L388.3 415.41 L390.31 414.81 L392.32 414.21 L394.32 413.6 L396.33 413 L398.33 412.41 L400.34 411.81 L402.35 411.22 L404.35 410.63 L406.36 410.05 L408.36 409.47 L410.37 408.89 L412.38 408.32 L414.38 407.73 L416.39 407.15 L418.4 406.56 L420.4 405.98 L422.41 405.41 L424.41 404.85 L426.42 404.31 L428.43 403.79 L430.43 403.29 L432.44 402.83 L434.44 402.38 L436.45 401.92 L438.46 401.46 L440.46 401.04 L442.47 400.67 L444.47 400.38 L446.48 400.18 L448.49 400.02 L450.49 399.88 L452.5 399.75 L454.5 399.64 L456.51 399.56 L458.52 399.51 L460.52 399.5 L462.53 399.5 L464.53 399.5 L466.54 399.5 L468.55 399.5 L470.55 399.5 L472.56 399.54 L474.57 399.64 L476.57 399.76 L478.58 399.93 L480.58 400.11 L482.59 400.3 L484.6 400.5 L486.6 400.7 L488.61 400.88 L490.61 401.05 L492.62 401.2 L494.63 401.35 L496.63 401.5 L498.64 401.65 L500.64 401.81 L502.65 401.98 L504.66 402.16 L506.66 402.36 L508.67 402.58 L510.67 402.83 L512.68 403.13 L514.69 403.45 L516.69 403.78 L518.7 404.12 L520.7 404.45 L522.71 404.78 L524.72 405.11 L526.72 405.45 L528.73 405.79 L530.74 406.14 L532.74 406.51 L534.75 406.89 L536.75 407.29 L538.76 407.71 L540.77 408.15 L542.77 408.63 L544.78 409.13 L546.78 409.66 L548.79 410.24 L550.8 410.96 L552.8 411.8 L554.81 412.72 L556.81 413.67 L558.82 414.62 L560.83 415.52 L562.83 416.33 L564.84 417.08 L566.84 417.81 L568.85 418.5 L570.86 419.18 L572.86 419.85 L574.87 420.52 L576.87 421.19 L578.88 421.88 L580.89 422.59 L582.89 423.33 L584.9 424.11 L586.91 424.94 L588.91 425.82 L590.92 426.82 L592.92 427.92 L594.93 429.06 L596.94 430.23 L598.94 431.37 L600.95 432.46 L602.95 433.47 L604.96 434.42 L606.97 435.34 L608.97 436.23 L610.98 437.11 L612.98 437.98 L614.99 438.85 L617 439.72 L619 440.62 L621.01 441.53 L623.01 442.48 L625.02 443.46 L627.03 444.45 L629.03 445.45 L631.04 446.46 L633.04 447.48 L635.05 448.5 L637.06 449.52 L639.06 450.53 L641.07 451.54 L643.08 452.55 L645.08 453.57 L647.09 454.59 L649.09 455.61 L651.1 456.62 L653.11 457.63 L655.11 458.63 L657.12 459.61 L659.12 460.58 L661.13 461.54 L663.14 462.49 L665.14 463.44 L667.15 464.38 L669.15 465.31 L671.16 466.23 L673.17 467.13 L675.17 468 L677.18 468.86 L679.18 469.68 L681.19 470.46 L683.2 471.23 L685.2 471.97 L687.21 472.7 L689.21 473.4 L691.22 474.1 L693.23 474.78 L695.23 475.44 L697.24 476.1 L699.25 476.76 L701.25 477.41 L703.26 478.06 L705.26 478.71 L707.27 479.35 L709.28 479.98 L711.28 480.6 L713.29 481.2 L715.29 481.77 L717.3 482.32 L719.31 482.83 L721.31 483.31 L723.32 483.77 L725.32 484.21 L727.33 484.63 L729.34 485.04 L731.34 485.43 L733.35 485.81 L735.35 486.18 L737.36 486.54 L739.37 486.89 L741.37 487.23 L743.38 487.58 L745.38 487.91 L747.39 488.24 L749.4 488.56 L751.4 488.87 L753.41 489.16 L755.42 489.44 L757.42 489.7 L759.43 489.94 L761.43 490.16 L763.44 490.37 L765.45 490.58 L767.45 490.78 L769.46 490.97 L771.46 491.15 L773.47 491.32 L775.48 491.48 L777.48 491.63 L779.49 491.77 L781.49 491.89 L783.5 492"><title>CA Variable r</title></path>
<path class="cv" stroke="#ffa500" stroke-dasharray="14.2 4.7 2.2 4.7 2.2 4.7 2.2 4.7" d="M155.6 455 L167.2 452.9 L180.5 451.5 L191.4 450.2 L254 443 L284.5 436.9 L307.8 433.1 L324 429.7 L337.4 427.3 L348.5 424.9 L395.1 415.7 L423.6 413.7 L443 415.6 L458 417 L470 419 L481 421 L490 422.6 L498 424.2 L505 425.8 L533 432 L553 437.6 L568 442 L574.4 443.6 L581 445.6 L586 447 L591.6 448.4 L600 451 L615 456 L627 459 L639 462 L647 464 L656 466.6 L665 468.6 L675 471.4 L685 473.6 L695 476.4 L705 478 L710 479.2 L723 481.4 L736 483.4 L748 485 L756.4 485.6 L765.1 486.6 L772.1 487.7 L779.7 489.3 L783.5 490"><title>CA Constant r</title></path>
<path class="mk" stroke="#ffa500" d="M162.1 452.9h10.2 M167.2 447.8v10.2 M175.4 451.5h10.2 M180.5 446.4v10.2 M186.3 450.2h10.2 M191.4 445.1v10.2 M248.9 443h10.2 M254 437.9v10.2 M279.4 436.9h10.2 M284.5 431.8v10.2 M302.7 433.1h10.2 M307.8 428v10.2 M318.9 429.7h10.2 M324 424.6v10.2 M332.3 427.3h10.2 M337.4 422.2v10.2 M343.4 424.9h10.2 M348.5 419.8v10.2 M390 415.7h10.2 M395.1 410.6v10.2 M418.5 413.7h10.2 M423.6 408.6v10.2 M437.9 415.6h10.2 M443 410.5v10.2 M452.9 417h10.2 M458 411.9v10.2 M464.9 419h10.2 M470 413.9v10.2 M475.9 421h10.2 M481 415.9v10.2 M484.9 422.6h10.2 M490 417.5v10.2 M492.9 424.2h10.2 M498 419.1v10.2 M499.9 425.8h10.2 M505 420.7v10.2 M527.9 432h10.2 M533 426.9v10.2 M547.9 437.6h10.2 M553 432.5v10.2 M562.9 442h10.2 M568 436.9v10.2 M569.3 443.6h10.2 M574.4 438.5v10.2 M575.9 445.6h10.2 M581 440.5v10.2 M580.9 447h10.2 M586 441.9v10.2 M586.5 448.4h10.2 M591.6 443.3v10.2 M594.9 451h10.2 M600 445.9v10.2 M609.9 456h10.2 M615 450.9v10.2 M621.9 459h10.2 M627 453.9v10.2 M633.9 462h10.2 M639 456.9v10.2 M641.9 464h10.2 M647 458.9v10.2 M650.9 466.6h10.2 M656 461.5v10.2 M659.9 468.6h10.2 M665 463.5v10.2 M669.9 471.4h10.2 M675 466.3v10.2 M679.9 473.6h10.2 M685 468.5v10.2 M689.9 476.4h10.2 M695 471.3v10.2 M699.9 478h10.2 M705 472.9v10.2 M704.9 479.2h10.2 M710 474.1v10.2 M717.9 481.4h10.2 M723 476.3v10.2 M730.9 483.4h10.2 M736 478.3v10.2 M742.9 485h10.2 M748 479.9v10.2 M751.3 485.6h10.2 M756.4 480.5v10.2 M760 486.6h10.2 M765.1 481.5v10.2 M767 487.7h10.2 M772.1 482.6v10.2 M774.6 489.3h10.2 M779.7 484.2v10.2"/>
</g>
</svg></body></html>
